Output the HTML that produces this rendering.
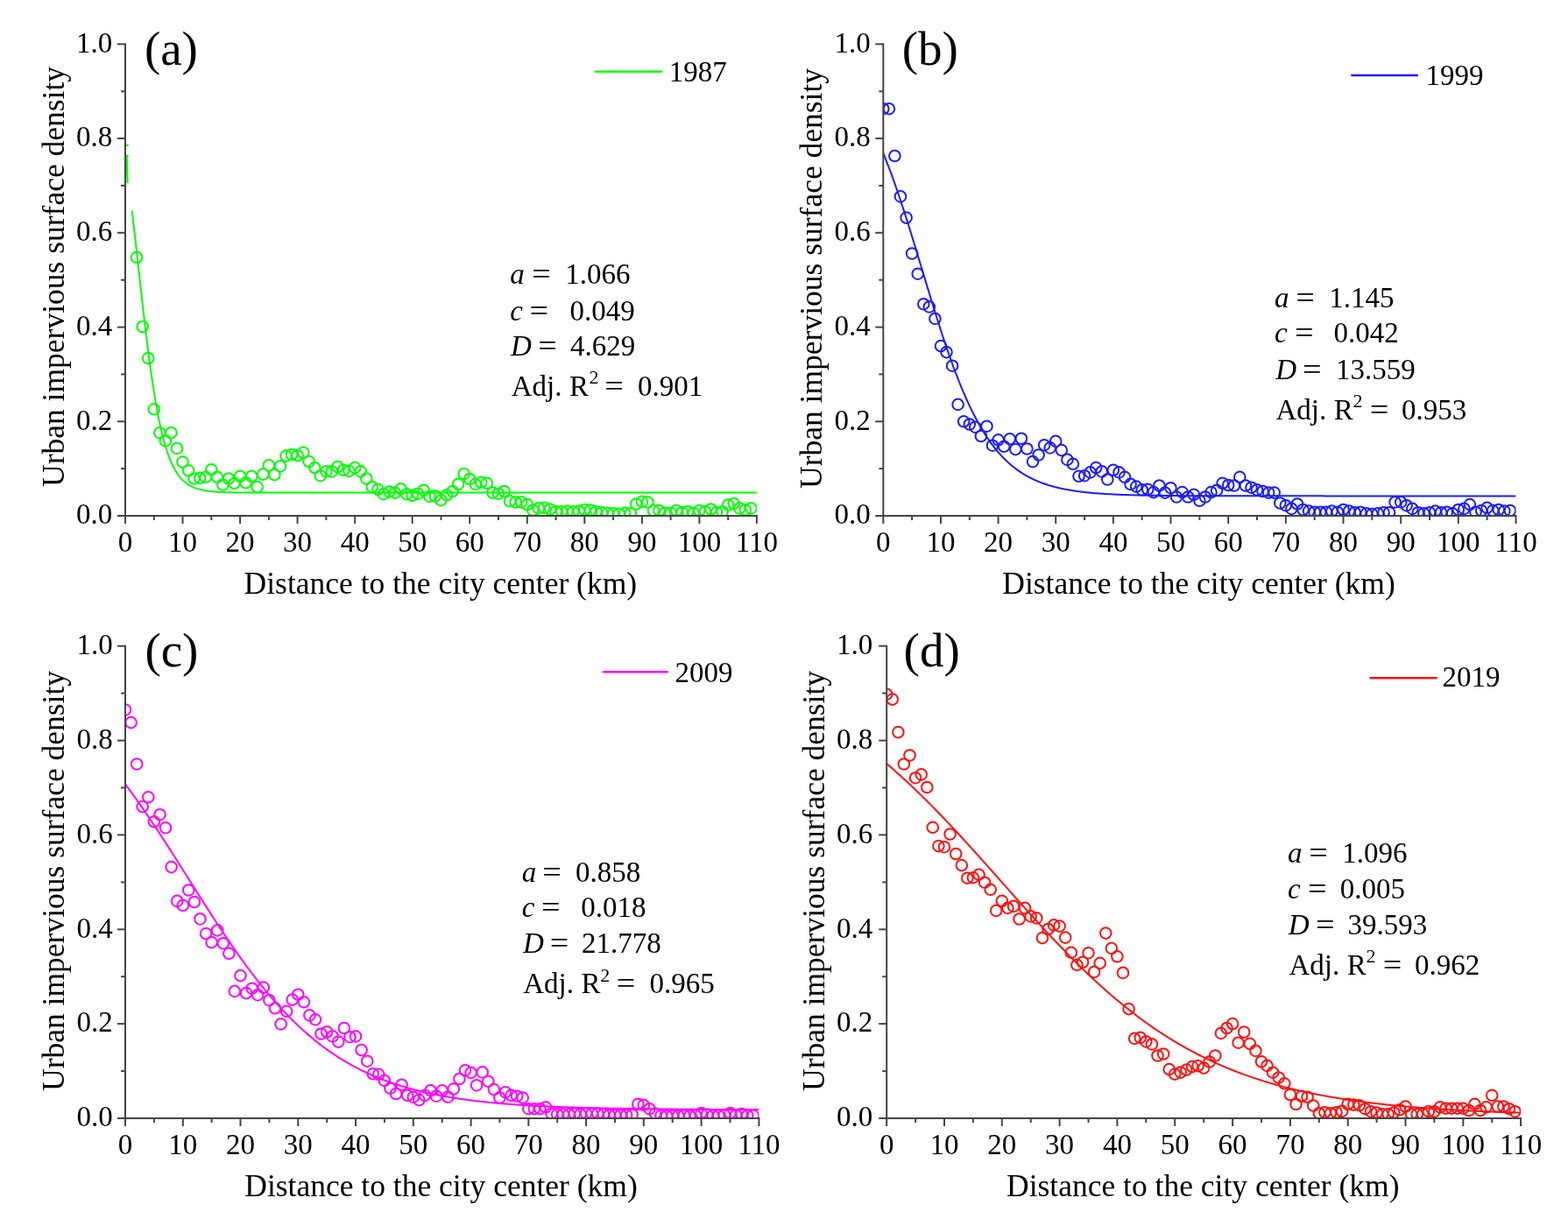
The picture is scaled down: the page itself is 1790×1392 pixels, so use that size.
<!DOCTYPE html>
<html><head><meta charset="utf-8"><title>Urban impervious surface density vs distance to the city center</title>
<style>html,body{margin:0;padding:0;background:#fff;overflow:hidden;}svg{display:block;}</style></head>
<body>
<svg width="1790" height="1392" viewBox="0 0 1790 1392" font-family="'Liberation Serif','Times New Roman',serif">
<rect width="1790" height="1392" fill="#fff"/>
<defs>
<clipPath id="clipa"><rect x="143.0" y="40.4" width="720.9" height="548.6"/></clipPath>
<clipPath id="clipb"><rect x="1008.3" y="40.4" width="722.2" height="548.6"/></clipPath>
<clipPath id="clipc"><rect x="143.0" y="727.7" width="723.4" height="549.3"/></clipPath>
<clipPath id="clipd"><rect x="1012.2" y="727.7" width="723.9" height="549.3"/></clipPath>
</defs>
<g clip-path="url(#clipa)" fill="none" stroke="#00ff00" stroke-width="2.0">
<circle cx="156.1" cy="293.8" r="6.3"/>
<circle cx="162.7" cy="373.0" r="6.3"/>
<circle cx="169.2" cy="409.1" r="6.3"/>
<circle cx="175.8" cy="467.3" r="6.3"/>
<circle cx="182.3" cy="494.2" r="6.3"/>
<circle cx="188.9" cy="503.4" r="6.3"/>
<circle cx="195.4" cy="494.2" r="6.3"/>
<circle cx="202.0" cy="512.0" r="6.3"/>
<circle cx="208.5" cy="527.6" r="6.3"/>
<circle cx="215.1" cy="537.3" r="6.3"/>
<circle cx="221.6" cy="546.5" r="6.3"/>
<circle cx="228.2" cy="545.9" r="6.3"/>
<circle cx="234.8" cy="544.8" r="6.3"/>
<circle cx="241.3" cy="536.2" r="6.3"/>
<circle cx="247.9" cy="544.8" r="6.3"/>
<circle cx="254.4" cy="553.5" r="6.3"/>
<circle cx="261.0" cy="546.5" r="6.3"/>
<circle cx="267.5" cy="551.8" r="6.3"/>
<circle cx="274.1" cy="543.8" r="6.3"/>
<circle cx="280.6" cy="551.3" r="6.3"/>
<circle cx="287.2" cy="543.8" r="6.3"/>
<circle cx="293.7" cy="556.1" r="6.3"/>
<circle cx="300.3" cy="541.6" r="6.3"/>
<circle cx="306.9" cy="531.4" r="6.3"/>
<circle cx="313.4" cy="542.1" r="6.3"/>
<circle cx="320.0" cy="532.4" r="6.3"/>
<circle cx="326.5" cy="520.6" r="6.3"/>
<circle cx="333.1" cy="519.0" r="6.3"/>
<circle cx="339.6" cy="520.1" r="6.3"/>
<circle cx="346.2" cy="516.8" r="6.3"/>
<circle cx="352.7" cy="527.1" r="6.3"/>
<circle cx="359.3" cy="534.1" r="6.3"/>
<circle cx="365.8" cy="543.2" r="6.3"/>
<circle cx="372.4" cy="538.4" r="6.3"/>
<circle cx="378.9" cy="538.4" r="6.3"/>
<circle cx="385.5" cy="533.0" r="6.3"/>
<circle cx="392.1" cy="536.8" r="6.3"/>
<circle cx="398.6" cy="537.8" r="6.3"/>
<circle cx="405.2" cy="534.1" r="6.3"/>
<circle cx="411.7" cy="538.4" r="6.3"/>
<circle cx="418.3" cy="546.5" r="6.3"/>
<circle cx="424.8" cy="556.1" r="6.3"/>
<circle cx="431.4" cy="558.8" r="6.3"/>
<circle cx="437.9" cy="564.2" r="6.3"/>
<circle cx="444.5" cy="561.5" r="6.3"/>
<circle cx="451.0" cy="562.6" r="6.3"/>
<circle cx="457.6" cy="558.3" r="6.3"/>
<circle cx="464.1" cy="564.2" r="6.3"/>
<circle cx="470.7" cy="565.8" r="6.3"/>
<circle cx="477.3" cy="563.7" r="6.3"/>
<circle cx="483.8" cy="559.9" r="6.3"/>
<circle cx="490.4" cy="566.9" r="6.3"/>
<circle cx="496.9" cy="566.4" r="6.3"/>
<circle cx="503.5" cy="571.2" r="6.3"/>
<circle cx="510.0" cy="565.3" r="6.3"/>
<circle cx="516.6" cy="561.0" r="6.3"/>
<circle cx="523.1" cy="552.9" r="6.3"/>
<circle cx="529.7" cy="541.1" r="6.3"/>
<circle cx="536.2" cy="547.0" r="6.3"/>
<circle cx="542.8" cy="552.9" r="6.3"/>
<circle cx="549.3" cy="550.8" r="6.3"/>
<circle cx="555.9" cy="551.8" r="6.3"/>
<circle cx="562.5" cy="562.6" r="6.3"/>
<circle cx="569.0" cy="563.7" r="6.3"/>
<circle cx="575.6" cy="561.0" r="6.3"/>
<circle cx="582.1" cy="572.3" r="6.3"/>
<circle cx="588.7" cy="573.4" r="6.3"/>
<circle cx="595.2" cy="573.4" r="6.3"/>
<circle cx="601.8" cy="576.1" r="6.3"/>
<circle cx="608.3" cy="582.5" r="6.3"/>
<circle cx="614.9" cy="580.4" r="6.3"/>
<circle cx="621.4" cy="579.8" r="6.3"/>
<circle cx="628.0" cy="581.5" r="6.3"/>
<circle cx="634.5" cy="584.2" r="6.3"/>
<circle cx="641.1" cy="584.2" r="6.3"/>
<circle cx="647.7" cy="583.6" r="6.3"/>
<circle cx="654.2" cy="584.2" r="6.3"/>
<circle cx="660.8" cy="583.6" r="6.3"/>
<circle cx="667.3" cy="582.0" r="6.3"/>
<circle cx="673.9" cy="582.5" r="6.3"/>
<circle cx="680.4" cy="584.2" r="6.3"/>
<circle cx="687.0" cy="585.2" r="6.3"/>
<circle cx="693.5" cy="585.8" r="6.3"/>
<circle cx="700.1" cy="586.3" r="6.3"/>
<circle cx="706.6" cy="586.8" r="6.3"/>
<circle cx="713.2" cy="585.8" r="6.3"/>
<circle cx="719.8" cy="586.3" r="6.3"/>
<circle cx="726.3" cy="575.5" r="6.3"/>
<circle cx="732.9" cy="572.8" r="6.3"/>
<circle cx="739.4" cy="573.4" r="6.3"/>
<circle cx="746.0" cy="583.1" r="6.3"/>
<circle cx="752.5" cy="583.1" r="6.3"/>
<circle cx="759.1" cy="585.8" r="6.3"/>
<circle cx="765.6" cy="585.8" r="6.3"/>
<circle cx="772.2" cy="583.1" r="6.3"/>
<circle cx="778.7" cy="585.0" r="6.3"/>
<circle cx="785.3" cy="584.2" r="6.3"/>
<circle cx="791.8" cy="585.8" r="6.3"/>
<circle cx="798.4" cy="583.1" r="6.3"/>
<circle cx="805.0" cy="584.2" r="6.3"/>
<circle cx="811.5" cy="581.5" r="6.3"/>
<circle cx="818.1" cy="585.0" r="6.3"/>
<circle cx="824.6" cy="584.2" r="6.3"/>
<circle cx="831.2" cy="576.6" r="6.3"/>
<circle cx="837.7" cy="575.0" r="6.3"/>
<circle cx="844.3" cy="580.4" r="6.3"/>
<circle cx="850.8" cy="582.3" r="6.3"/>
<circle cx="857.4" cy="580.4" r="6.3"/>
</g>
<polyline points="150.67,240.53 152.09,252.66 153.52,265.05 154.95,277.64 156.37,290.37 157.80,303.19 159.23,316.02 160.65,328.81 162.08,341.48 163.51,353.98 164.93,366.25 166.36,378.24 167.79,389.90 169.21,401.18 170.64,412.05 172.07,422.49 173.49,432.46 174.92,441.95 176.35,450.95 177.77,459.45 179.20,467.46 180.63,474.99 182.05,482.03 183.48,488.61 184.91,494.73 186.33,500.42 187.76,505.69 189.18,510.57 190.61,515.07 192.04,519.22 193.46,523.04 194.89,526.55 196.32,529.77 197.74,532.72 199.17,535.42 200.60,537.89 202.02,540.14 203.45,542.20 204.88,544.08 206.30,545.79 207.73,547.34 209.16,548.76 210.58,550.05 212.01,551.22 213.44,552.28 214.86,553.25 216.29,554.13 217.72,554.93 219.14,555.65 220.57,556.30 222.00,556.90 223.42,557.44 224.85,557.93 226.27,558.37 227.70,558.77 229.13,559.13 230.55,559.46 231.98,559.76 233.41,560.03 234.83,560.28 236.26,560.50 237.69,560.70 239.11,560.88 240.54,561.04 241.97,561.19 243.39,561.33 244.82,561.45 246.25,561.56 247.67,561.66 249.10,561.75 250.53,561.83 251.95,561.91 253.38,561.97 254.81,562.03 256.23,562.09 257.66,562.14 259.09,562.18 260.51,562.22 261.94,562.26 263.37,562.29 264.79,562.32 266.22,562.35 267.64,562.38 269.07,562.40 270.50,562.42 271.92,562.44 273.35,562.45 274.78,562.47 276.20,562.48 277.63,562.49 279.06,562.50 280.48,562.51 281.91,562.52 283.34,562.53 284.76,562.54 286.19,562.55 287.62,562.55 289.04,562.56 290.47,562.56 291.90,562.57 293.32,562.57 294.75,562.57 296.18,562.58 297.60,562.58 299.03,562.58 300.46,562.59 301.88,562.59 303.31,562.59 304.73,562.59 306.16,562.59 307.59,562.59 309.01,562.60 310.44,562.60 311.87,562.60 313.29,562.60 314.72,562.60 316.15,562.60 317.57,562.60 319.00,562.60 320.43,562.60 321.85,562.60 323.28,562.60 324.71,562.60 326.13,562.60 327.56,562.61 328.99,562.61 330.41,562.61 331.84,562.61 333.27,562.61 334.69,562.61 336.12,562.61 337.55,562.61 338.97,562.61 340.40,562.61 341.83,562.61 343.25,562.61 344.68,562.61 346.10,562.61 347.53,562.61 348.96,562.61 350.38,562.61 351.81,562.61 353.24,562.61 354.66,562.61 356.09,562.61 357.52,562.61 358.94,562.61 360.37,562.61 361.80,562.61 363.22,562.61 364.65,562.61 366.08,562.61 367.50,562.61 368.93,562.61 370.36,562.61 371.78,562.61 373.21,562.61 374.64,562.61 376.06,562.61 377.49,562.61 378.92,562.61 380.34,562.61 381.77,562.61 383.19,562.61 384.62,562.61 386.05,562.61 387.47,562.61 388.90,562.61 390.33,562.61 391.75,562.61 393.18,562.61 394.61,562.61 396.03,562.61 397.46,562.61 398.89,562.61 400.31,562.61 401.74,562.61 403.17,562.61 404.59,562.61 406.02,562.61 407.45,562.61 408.87,562.61 410.30,562.61 411.73,562.61 413.15,562.61 414.58,562.61 416.01,562.61 417.43,562.61 418.86,562.61 420.28,562.61 421.71,562.61 423.14,562.61 424.56,562.61 425.99,562.61 427.42,562.61 428.84,562.61 430.27,562.61 431.70,562.61 433.12,562.61 434.55,562.61 435.98,562.61 437.40,562.61 438.83,562.61 440.26,562.61 441.68,562.61 443.11,562.61 444.54,562.61 445.96,562.61 447.39,562.61 448.82,562.61 450.24,562.61 451.67,562.61 453.10,562.61 454.52,562.61 455.95,562.61 457.38,562.61 458.80,562.61 460.23,562.61 461.65,562.61 463.08,562.61 464.51,562.61 465.93,562.61 467.36,562.61 468.79,562.61 470.21,562.61 471.64,562.61 473.07,562.61 474.49,562.61 475.92,562.61 477.35,562.61 478.77,562.61 480.20,562.61 481.63,562.61 483.05,562.61 484.48,562.61 485.91,562.61 487.33,562.61 488.76,562.61 490.19,562.61 491.61,562.61 493.04,562.61 494.47,562.61 495.89,562.61 497.32,562.61 498.74,562.61 500.17,562.61 501.60,562.61 503.02,562.61 504.45,562.61 505.88,562.61 507.30,562.61 508.73,562.61 510.16,562.61 511.58,562.61 513.01,562.61 514.44,562.61 515.86,562.61 517.29,562.61 518.72,562.61 520.14,562.61 521.57,562.61 523.00,562.61 524.42,562.61 525.85,562.61 527.28,562.61 528.70,562.61 530.13,562.61 531.56,562.61 532.98,562.61 534.41,562.61 535.83,562.61 537.26,562.61 538.69,562.61 540.11,562.61 541.54,562.61 542.97,562.61 544.39,562.61 545.82,562.61 547.25,562.61 548.67,562.61 550.10,562.61 551.53,562.61 552.95,562.61 554.38,562.61 555.81,562.61 557.23,562.61 558.66,562.61 560.09,562.61 561.51,562.61 562.94,562.61 564.37,562.61 565.79,562.61 567.22,562.61 568.65,562.61 570.07,562.61 571.50,562.61 572.93,562.61 574.35,562.61 575.78,562.61 577.20,562.61 578.63,562.61 580.06,562.61 581.48,562.61 582.91,562.61 584.34,562.61 585.76,562.61 587.19,562.61 588.62,562.61 590.04,562.61 591.47,562.61 592.90,562.61 594.32,562.61 595.75,562.61 597.18,562.61 598.60,562.61 600.03,562.61 601.46,562.61 602.88,562.61 604.31,562.61 605.74,562.61 607.16,562.61 608.59,562.61 610.02,562.61 611.44,562.61 612.87,562.61 614.29,562.61 615.72,562.61 617.15,562.61 618.57,562.61 620.00,562.61 621.43,562.61 622.85,562.61 624.28,562.61 625.71,562.61 627.13,562.61 628.56,562.61 629.99,562.61 631.41,562.61 632.84,562.61 634.27,562.61 635.69,562.61 637.12,562.61 638.55,562.61 639.97,562.61 641.40,562.61 642.83,562.61 644.25,562.61 645.68,562.61 647.11,562.61 648.53,562.61 649.96,562.61 651.38,562.61 652.81,562.61 654.24,562.61 655.66,562.61 657.09,562.61 658.52,562.61 659.94,562.61 661.37,562.61 662.80,562.61 664.22,562.61 665.65,562.61 667.08,562.61 668.50,562.61 669.93,562.61 671.36,562.61 672.78,562.61 674.21,562.61 675.64,562.61 677.06,562.61 678.49,562.61 679.92,562.61 681.34,562.61 682.77,562.61 684.20,562.61 685.62,562.61 687.05,562.61 688.48,562.61 689.90,562.61 691.33,562.61 692.75,562.61 694.18,562.61 695.61,562.61 697.03,562.61 698.46,562.61 699.89,562.61 701.31,562.61 702.74,562.61 704.17,562.61 705.59,562.61 707.02,562.61 708.45,562.61 709.87,562.61 711.30,562.61 712.73,562.61 714.15,562.61 715.58,562.61 717.01,562.61 718.43,562.61 719.86,562.61 721.29,562.61 722.71,562.61 724.14,562.61 725.57,562.61 726.99,562.61 728.42,562.61 729.84,562.61 731.27,562.61 732.70,562.61 734.12,562.61 735.55,562.61 736.98,562.61 738.40,562.61 739.83,562.61 741.26,562.61 742.68,562.61 744.11,562.61 745.54,562.61 746.96,562.61 748.39,562.61 749.82,562.61 751.24,562.61 752.67,562.61 754.10,562.61 755.52,562.61 756.95,562.61 758.38,562.61 759.80,562.61 761.23,562.61 762.66,562.61 764.08,562.61 765.51,562.61 766.94,562.61 768.36,562.61 769.79,562.61 771.21,562.61 772.64,562.61 774.07,562.61 775.49,562.61 776.92,562.61 778.35,562.61 779.77,562.61 781.20,562.61 782.63,562.61 784.05,562.61 785.48,562.61 786.91,562.61 788.33,562.61 789.76,562.61 791.19,562.61 792.61,562.61 794.04,562.61 795.47,562.61 796.89,562.61 798.32,562.61 799.75,562.61 801.17,562.61 802.60,562.61 804.03,562.61 805.45,562.61 806.88,562.61 808.30,562.61 809.73,562.61 811.16,562.61 812.58,562.61 814.01,562.61 815.44,562.61 816.86,562.61 818.29,562.61 819.72,562.61 821.14,562.61 822.57,562.61 824.00,562.61 825.42,562.61 826.85,562.61 828.28,562.61 829.70,562.61 831.13,562.61 832.56,562.61 833.98,562.61 835.41,562.61 836.84,562.61 838.26,562.61 839.69,562.61 841.12,562.61 842.54,562.61 843.97,562.61 845.39,562.61 846.82,562.61 848.25,562.61 849.67,562.61 851.10,562.61 852.53,562.61 853.95,562.61 855.38,562.61 856.81,562.61 858.23,562.61 859.66,562.61 861.09,562.61 862.51,562.61 863.94,562.61" fill="none" stroke="#00ff00" stroke-width="2.0" stroke-linejoin="round" clip-path="url(#clipa)"/>
<g stroke="#00ff00" stroke-width="2.2" fill="none"><line x1="143.5" y1="165.8" x2="146.6" y2="165.8"/><line x1="143.5" y1="178" x2="146.6" y2="178"/><line x1="144.6" y1="178.5" x2="145.6" y2="209"/></g>
<g stroke="#444" stroke-width="2" fill="none" stroke-linecap="square">
<line x1="143.0" y1="50.4" x2="143.0" y2="589.0"/>
<line x1="143.0" y1="589.0" x2="863.9" y2="589.0"/>
</g><g stroke="#444" stroke-width="2" fill="none">
<line x1="143.0" y1="589.0" x2="143.0" y2="598.0"/>
<line x1="175.8" y1="589.0" x2="175.8" y2="594.0"/>
<line x1="208.5" y1="589.0" x2="208.5" y2="598.0"/>
<line x1="241.3" y1="589.0" x2="241.3" y2="594.0"/>
<line x1="274.1" y1="589.0" x2="274.1" y2="598.0"/>
<line x1="306.9" y1="589.0" x2="306.9" y2="594.0"/>
<line x1="339.6" y1="589.0" x2="339.6" y2="598.0"/>
<line x1="372.4" y1="589.0" x2="372.4" y2="594.0"/>
<line x1="405.2" y1="589.0" x2="405.2" y2="598.0"/>
<line x1="437.9" y1="589.0" x2="437.9" y2="594.0"/>
<line x1="470.7" y1="589.0" x2="470.7" y2="598.0"/>
<line x1="503.5" y1="589.0" x2="503.5" y2="594.0"/>
<line x1="536.2" y1="589.0" x2="536.2" y2="598.0"/>
<line x1="569.0" y1="589.0" x2="569.0" y2="594.0"/>
<line x1="601.8" y1="589.0" x2="601.8" y2="598.0"/>
<line x1="634.5" y1="589.0" x2="634.5" y2="594.0"/>
<line x1="667.3" y1="589.0" x2="667.3" y2="598.0"/>
<line x1="700.1" y1="589.0" x2="700.1" y2="594.0"/>
<line x1="732.9" y1="589.0" x2="732.9" y2="598.0"/>
<line x1="765.6" y1="589.0" x2="765.6" y2="594.0"/>
<line x1="798.4" y1="589.0" x2="798.4" y2="598.0"/>
<line x1="831.2" y1="589.0" x2="831.2" y2="594.0"/>
<line x1="863.9" y1="589.0" x2="863.9" y2="598.0"/>
<line x1="134.0" y1="589.0" x2="143.0" y2="589.0"/>
<line x1="138.0" y1="535.1" x2="143.0" y2="535.1"/>
<line x1="134.0" y1="481.3" x2="143.0" y2="481.3"/>
<line x1="138.0" y1="427.4" x2="143.0" y2="427.4"/>
<line x1="134.0" y1="373.6" x2="143.0" y2="373.6"/>
<line x1="138.0" y1="319.7" x2="143.0" y2="319.7"/>
<line x1="134.0" y1="265.8" x2="143.0" y2="265.8"/>
<line x1="138.0" y1="212.0" x2="143.0" y2="212.0"/>
<line x1="134.0" y1="158.1" x2="143.0" y2="158.1"/>
<line x1="138.0" y1="104.3" x2="143.0" y2="104.3"/>
<line x1="134.0" y1="50.4" x2="143.0" y2="50.4"/>
</g>
<g font-size="33" fill="#000">
<text x="143.0" y="629.9" text-anchor="middle">0</text>
<text x="208.5" y="629.9" text-anchor="middle">10</text>
<text x="274.1" y="629.9" text-anchor="middle">20</text>
<text x="339.6" y="629.9" text-anchor="middle">30</text>
<text x="405.2" y="629.9" text-anchor="middle">40</text>
<text x="470.7" y="629.9" text-anchor="middle">50</text>
<text x="536.2" y="629.9" text-anchor="middle">60</text>
<text x="601.8" y="629.9" text-anchor="middle">70</text>
<text x="667.3" y="629.9" text-anchor="middle">80</text>
<text x="732.9" y="629.9" text-anchor="middle">90</text>
<text x="798.4" y="629.9" text-anchor="middle">100</text>
<text x="863.9" y="629.9" text-anchor="middle">110</text>
<text x="128.2" y="598.3" text-anchor="end">0.0</text>
<text x="128.2" y="490.6" text-anchor="end">0.2</text>
<text x="128.2" y="382.9" text-anchor="end">0.4</text>
<text x="128.2" y="275.1" text-anchor="end">0.6</text>
<text x="128.2" y="167.4" text-anchor="end">0.8</text>
<text x="128.2" y="59.7" text-anchor="end">1.0</text>
</g>
<text x="164.9" y="74.1" font-size="55">(a)</text>
<line x1="679.0" y1="81.8" x2="756.1" y2="81.8" stroke="#00ff00" stroke-width="2.4"/>
<text x="763.7" y="93.3" font-size="33">1987</text>
<text x="278.6" y="678.3" font-size="35.5">Distance to the city center (km)</text>
<text transform="translate(72.7,556.0) rotate(-90)" x="0" y="0" font-size="35.5">Urban impervious surface density</text>
<g font-size="33.0">
<text x="582.3" y="323.7" font-style="italic">a</text>
<text transform="translate(607.2,323.7) scale(1.16,1)">=</text>
<text x="645.2" y="323.7">1.066</text>
<text x="582.3" y="365.6" font-style="italic">c</text>
<text transform="translate(604.4,365.6) scale(1.16,1)">=</text>
<text x="650.4" y="365.6">0.049</text>
<text x="582.9" y="406.1" font-style="italic">D</text>
<text transform="translate(614.2,406.1) scale(1.16,1)">=</text>
<text x="651.0" y="406.1">4.629</text>
<text x="583.7" y="452.2">Adj.</text>
<text x="650.0" y="452.2">R</text>
<text x="672.5" y="438.4" font-size="22">2</text>
<text transform="translate(690.3,452.2) scale(1.16,1)">=</text>
<text x="727.9" y="452.2">0.901</text>
</g>
<g clip-path="url(#clipb)" fill="none" stroke="#1c1cff" stroke-width="2.0">
<circle cx="1008.3" cy="124.2" r="6.3"/>
<circle cx="1014.9" cy="124.2" r="6.3"/>
<circle cx="1021.4" cy="178.0" r="6.3"/>
<circle cx="1028.0" cy="224.4" r="6.3"/>
<circle cx="1034.6" cy="248.6" r="6.3"/>
<circle cx="1041.1" cy="289.5" r="6.3"/>
<circle cx="1047.7" cy="312.7" r="6.3"/>
<circle cx="1054.3" cy="347.2" r="6.3"/>
<circle cx="1060.8" cy="350.4" r="6.3"/>
<circle cx="1067.4" cy="363.9" r="6.3"/>
<circle cx="1074.0" cy="395.1" r="6.3"/>
<circle cx="1080.5" cy="402.1" r="6.3"/>
<circle cx="1087.1" cy="417.7" r="6.3"/>
<circle cx="1093.6" cy="461.9" r="6.3"/>
<circle cx="1100.2" cy="481.3" r="6.3"/>
<circle cx="1106.8" cy="484.5" r="6.3"/>
<circle cx="1113.3" cy="487.7" r="6.3"/>
<circle cx="1119.9" cy="498.0" r="6.3"/>
<circle cx="1126.5" cy="486.7" r="6.3"/>
<circle cx="1133.0" cy="508.7" r="6.3"/>
<circle cx="1139.6" cy="502.3" r="6.3"/>
<circle cx="1146.2" cy="509.8" r="6.3"/>
<circle cx="1152.7" cy="501.2" r="6.3"/>
<circle cx="1159.3" cy="513.1" r="6.3"/>
<circle cx="1165.9" cy="500.7" r="6.3"/>
<circle cx="1172.4" cy="512.5" r="6.3"/>
<circle cx="1179.0" cy="527.1" r="6.3"/>
<circle cx="1185.6" cy="519.5" r="6.3"/>
<circle cx="1192.1" cy="508.2" r="6.3"/>
<circle cx="1198.7" cy="511.4" r="6.3"/>
<circle cx="1205.2" cy="503.9" r="6.3"/>
<circle cx="1211.8" cy="514.1" r="6.3"/>
<circle cx="1218.4" cy="524.9" r="6.3"/>
<circle cx="1224.9" cy="529.8" r="6.3"/>
<circle cx="1231.5" cy="543.8" r="6.3"/>
<circle cx="1238.1" cy="543.2" r="6.3"/>
<circle cx="1244.6" cy="539.4" r="6.3"/>
<circle cx="1251.2" cy="534.1" r="6.3"/>
<circle cx="1257.8" cy="538.4" r="6.3"/>
<circle cx="1264.3" cy="547.5" r="6.3"/>
<circle cx="1270.9" cy="536.8" r="6.3"/>
<circle cx="1277.5" cy="539.4" r="6.3"/>
<circle cx="1284.0" cy="544.8" r="6.3"/>
<circle cx="1290.6" cy="552.9" r="6.3"/>
<circle cx="1297.2" cy="555.6" r="6.3"/>
<circle cx="1303.7" cy="559.4" r="6.3"/>
<circle cx="1310.3" cy="558.8" r="6.3"/>
<circle cx="1316.9" cy="562.1" r="6.3"/>
<circle cx="1323.4" cy="554.5" r="6.3"/>
<circle cx="1330.0" cy="562.6" r="6.3"/>
<circle cx="1336.5" cy="557.2" r="6.3"/>
<circle cx="1343.1" cy="567.5" r="6.3"/>
<circle cx="1349.7" cy="562.1" r="6.3"/>
<circle cx="1356.2" cy="567.5" r="6.3"/>
<circle cx="1362.8" cy="564.8" r="6.3"/>
<circle cx="1369.4" cy="571.8" r="6.3"/>
<circle cx="1375.9" cy="567.5" r="6.3"/>
<circle cx="1382.5" cy="562.1" r="6.3"/>
<circle cx="1389.1" cy="559.9" r="6.3"/>
<circle cx="1395.6" cy="551.8" r="6.3"/>
<circle cx="1402.2" cy="554.0" r="6.3"/>
<circle cx="1408.8" cy="554.5" r="6.3"/>
<circle cx="1415.3" cy="544.8" r="6.3"/>
<circle cx="1421.9" cy="554.5" r="6.3"/>
<circle cx="1428.5" cy="556.7" r="6.3"/>
<circle cx="1435.0" cy="559.4" r="6.3"/>
<circle cx="1441.6" cy="561.0" r="6.3"/>
<circle cx="1448.2" cy="562.6" r="6.3"/>
<circle cx="1454.7" cy="562.6" r="6.3"/>
<circle cx="1461.3" cy="574.5" r="6.3"/>
<circle cx="1467.8" cy="577.2" r="6.3"/>
<circle cx="1474.4" cy="580.9" r="6.3"/>
<circle cx="1481.0" cy="575.5" r="6.3"/>
<circle cx="1487.5" cy="582.0" r="6.3"/>
<circle cx="1494.1" cy="583.6" r="6.3"/>
<circle cx="1500.7" cy="584.7" r="6.3"/>
<circle cx="1507.2" cy="584.7" r="6.3"/>
<circle cx="1513.8" cy="584.7" r="6.3"/>
<circle cx="1520.4" cy="583.6" r="6.3"/>
<circle cx="1526.9" cy="584.7" r="6.3"/>
<circle cx="1533.5" cy="582.0" r="6.3"/>
<circle cx="1540.1" cy="583.6" r="6.3"/>
<circle cx="1546.6" cy="585.2" r="6.3"/>
<circle cx="1553.2" cy="584.7" r="6.3"/>
<circle cx="1559.8" cy="586.3" r="6.3"/>
<circle cx="1566.3" cy="587.1" r="6.3"/>
<circle cx="1572.9" cy="586.3" r="6.3"/>
<circle cx="1579.5" cy="585.2" r="6.3"/>
<circle cx="1586.0" cy="585.2" r="6.3"/>
<circle cx="1592.6" cy="573.4" r="6.3"/>
<circle cx="1599.2" cy="573.4" r="6.3"/>
<circle cx="1605.7" cy="577.2" r="6.3"/>
<circle cx="1612.3" cy="580.9" r="6.3"/>
<circle cx="1618.8" cy="585.2" r="6.3"/>
<circle cx="1625.4" cy="586.3" r="6.3"/>
<circle cx="1632.0" cy="585.2" r="6.3"/>
<circle cx="1638.5" cy="583.6" r="6.3"/>
<circle cx="1645.1" cy="585.2" r="6.3"/>
<circle cx="1651.7" cy="584.7" r="6.3"/>
<circle cx="1658.2" cy="586.3" r="6.3"/>
<circle cx="1664.8" cy="582.0" r="6.3"/>
<circle cx="1671.4" cy="580.9" r="6.3"/>
<circle cx="1677.9" cy="576.1" r="6.3"/>
<circle cx="1684.5" cy="584.7" r="6.3"/>
<circle cx="1691.1" cy="583.1" r="6.3"/>
<circle cx="1697.6" cy="579.8" r="6.3"/>
<circle cx="1704.2" cy="583.1" r="6.3"/>
<circle cx="1710.8" cy="582.0" r="6.3"/>
<circle cx="1717.3" cy="583.6" r="6.3"/>
<circle cx="1723.9" cy="583.1" r="6.3"/>
</g>
<polyline points="1008.30,174.96 1009.74,178.50 1011.19,182.12 1012.63,185.79 1014.08,189.54 1015.52,193.34 1016.97,197.22 1018.41,201.15 1019.85,205.14 1021.30,209.20 1022.74,213.31 1024.19,217.48 1025.63,221.71 1027.08,225.99 1028.52,230.32 1029.96,234.69 1031.41,239.12 1032.85,243.59 1034.30,248.10 1035.74,252.65 1037.19,257.24 1038.63,261.86 1040.07,266.51 1041.52,271.19 1042.96,275.89 1044.41,280.62 1045.85,285.37 1047.30,290.13 1048.74,294.91 1050.18,299.69 1051.63,304.48 1053.07,309.27 1054.52,314.06 1055.96,318.85 1057.41,323.63 1058.85,328.40 1060.29,333.16 1061.74,337.90 1063.18,342.62 1064.63,347.32 1066.07,351.99 1067.52,356.63 1068.96,361.24 1070.40,365.81 1071.85,370.35 1073.29,374.84 1074.74,379.30 1076.18,383.70 1077.63,388.06 1079.07,392.37 1080.51,396.63 1081.96,400.84 1083.40,404.99 1084.85,409.08 1086.29,413.11 1087.74,417.09 1089.18,421.00 1090.63,424.84 1092.07,428.63 1093.51,432.35 1094.96,436.00 1096.40,439.59 1097.85,443.11 1099.29,446.56 1100.74,449.94 1102.18,453.26 1103.62,456.51 1105.07,459.69 1106.51,462.80 1107.96,465.84 1109.40,468.81 1110.85,471.72 1112.29,474.56 1113.73,477.33 1115.18,480.03 1116.62,482.67 1118.07,485.24 1119.51,487.75 1120.96,490.20 1122.40,492.58 1123.84,494.90 1125.29,497.15 1126.73,499.35 1128.18,501.49 1129.62,503.57 1131.07,505.59 1132.51,507.55 1133.95,509.46 1135.40,511.32 1136.84,513.12 1138.29,514.87 1139.73,516.56 1141.18,518.21 1142.62,519.81 1144.06,521.36 1145.51,522.86 1146.95,524.32 1148.40,525.73 1149.84,527.10 1151.29,528.43 1152.73,529.72 1154.17,530.96 1155.62,532.17 1157.06,533.34 1158.51,534.47 1159.95,535.56 1161.40,536.62 1162.84,537.65 1164.28,538.64 1165.73,539.60 1167.17,540.52 1168.62,541.42 1170.06,542.29 1171.51,543.13 1172.95,543.94 1174.39,544.72 1175.84,545.48 1177.28,546.21 1178.73,546.92 1180.17,547.61 1181.62,548.27 1183.06,548.90 1184.50,549.52 1185.95,550.12 1187.39,550.69 1188.84,551.25 1190.28,551.78 1191.73,552.30 1193.17,552.80 1194.61,553.28 1196.06,553.75 1197.50,554.20 1198.95,554.63 1200.39,555.05 1201.84,555.46 1203.28,555.85 1204.72,556.22 1206.17,556.59 1207.61,556.94 1209.06,557.28 1210.50,557.60 1211.95,557.92 1213.39,558.22 1214.83,558.51 1216.28,558.80 1217.72,559.07 1219.17,559.33 1220.61,559.59 1222.06,559.83 1223.50,560.07 1224.94,560.29 1226.39,560.51 1227.83,560.73 1229.28,560.93 1230.72,561.13 1232.17,561.32 1233.61,561.50 1235.06,561.67 1236.50,561.84 1237.94,562.01 1239.39,562.17 1240.83,562.32 1242.28,562.47 1243.72,562.61 1245.17,562.74 1246.61,562.88 1248.05,563.00 1249.50,563.13 1250.94,563.24 1252.39,563.36 1253.83,563.47 1255.28,563.57 1256.72,563.67 1258.16,563.77 1259.61,563.87 1261.05,563.96 1262.50,564.05 1263.94,564.13 1265.39,564.21 1266.83,564.29 1268.27,564.37 1269.72,564.44 1271.16,564.51 1272.61,564.58 1274.05,564.64 1275.50,564.71 1276.94,564.77 1278.38,564.83 1279.83,564.88 1281.27,564.94 1282.72,564.99 1284.16,565.04 1285.61,565.09 1287.05,565.14 1288.49,565.18 1289.94,565.22 1291.38,565.27 1292.83,565.31 1294.27,565.35 1295.72,565.38 1297.16,565.42 1298.60,565.45 1300.05,565.49 1301.49,565.52 1302.94,565.55 1304.38,565.58 1305.83,565.61 1307.27,565.64 1308.71,565.67 1310.16,565.69 1311.60,565.72 1313.05,565.74 1314.49,565.76 1315.94,565.79 1317.38,565.81 1318.82,565.83 1320.27,565.85 1321.71,565.87 1323.16,565.89 1324.60,565.91 1326.05,565.92 1327.49,565.94 1328.93,565.95 1330.38,565.97 1331.82,565.99 1333.27,566.00 1334.71,566.01 1336.16,566.03 1337.60,566.04 1339.04,566.05 1340.49,566.06 1341.93,566.08 1343.38,566.09 1344.82,566.10 1346.27,566.11 1347.71,566.12 1349.15,566.13 1350.60,566.14 1352.04,566.14 1353.49,566.15 1354.93,566.16 1356.38,566.17 1357.82,566.18 1359.26,566.18 1360.71,566.19 1362.15,566.20 1363.60,566.20 1365.04,566.21 1366.49,566.22 1367.93,566.22 1369.38,566.23 1370.82,566.23 1372.26,566.24 1373.71,566.24 1375.15,566.25 1376.60,566.25 1378.04,566.26 1379.49,566.26 1380.93,566.27 1382.37,566.27 1383.82,566.28 1385.26,566.28 1386.71,566.28 1388.15,566.29 1389.60,566.29 1391.04,566.29 1392.48,566.30 1393.93,566.30 1395.37,566.30 1396.82,566.30 1398.26,566.31 1399.71,566.31 1401.15,566.31 1402.59,566.32 1404.04,566.32 1405.48,566.32 1406.93,566.32 1408.37,566.32 1409.82,566.33 1411.26,566.33 1412.70,566.33 1414.15,566.33 1415.59,566.33 1417.04,566.33 1418.48,566.34 1419.93,566.34 1421.37,566.34 1422.81,566.34 1424.26,566.34 1425.70,566.34 1427.15,566.34 1428.59,566.35 1430.04,566.35 1431.48,566.35 1432.92,566.35 1434.37,566.35 1435.81,566.35 1437.26,566.35 1438.70,566.35 1440.15,566.35 1441.59,566.36 1443.03,566.36 1444.48,566.36 1445.92,566.36 1447.37,566.36 1448.81,566.36 1450.26,566.36 1451.70,566.36 1453.14,566.36 1454.59,566.36 1456.03,566.36 1457.48,566.36 1458.92,566.36 1460.37,566.36 1461.81,566.36 1463.25,566.37 1464.70,566.37 1466.14,566.37 1467.59,566.37 1469.03,566.37 1470.48,566.37 1471.92,566.37 1473.36,566.37 1474.81,566.37 1476.25,566.37 1477.70,566.37 1479.14,566.37 1480.59,566.37 1482.03,566.37 1483.47,566.37 1484.92,566.37 1486.36,566.37 1487.81,566.37 1489.25,566.37 1490.70,566.37 1492.14,566.37 1493.58,566.37 1495.03,566.37 1496.47,566.37 1497.92,566.37 1499.36,566.37 1500.81,566.37 1502.25,566.37 1503.69,566.37 1505.14,566.37 1506.58,566.37 1508.03,566.37 1509.47,566.37 1510.92,566.37 1512.36,566.38 1513.81,566.38 1515.25,566.38 1516.69,566.38 1518.14,566.38 1519.58,566.38 1521.03,566.38 1522.47,566.38 1523.92,566.38 1525.36,566.38 1526.80,566.38 1528.25,566.38 1529.69,566.38 1531.14,566.38 1532.58,566.38 1534.03,566.38 1535.47,566.38 1536.91,566.38 1538.36,566.38 1539.80,566.38 1541.25,566.38 1542.69,566.38 1544.14,566.38 1545.58,566.38 1547.02,566.38 1548.47,566.38 1549.91,566.38 1551.36,566.38 1552.80,566.38 1554.25,566.38 1555.69,566.38 1557.13,566.38 1558.58,566.38 1560.02,566.38 1561.47,566.38 1562.91,566.38 1564.36,566.38 1565.80,566.38 1567.24,566.38 1568.69,566.38 1570.13,566.38 1571.58,566.38 1573.02,566.38 1574.47,566.38 1575.91,566.38 1577.35,566.38 1578.80,566.38 1580.24,566.38 1581.69,566.38 1583.13,566.38 1584.58,566.38 1586.02,566.38 1587.46,566.38 1588.91,566.38 1590.35,566.38 1591.80,566.38 1593.24,566.38 1594.69,566.38 1596.13,566.38 1597.57,566.38 1599.02,566.38 1600.46,566.38 1601.91,566.38 1603.35,566.38 1604.80,566.38 1606.24,566.38 1607.68,566.38 1609.13,566.38 1610.57,566.38 1612.02,566.38 1613.46,566.38 1614.91,566.38 1616.35,566.38 1617.79,566.38 1619.24,566.38 1620.68,566.38 1622.13,566.38 1623.57,566.38 1625.02,566.38 1626.46,566.38 1627.90,566.38 1629.35,566.38 1630.79,566.38 1632.24,566.38 1633.68,566.38 1635.13,566.38 1636.57,566.38 1638.01,566.38 1639.46,566.38 1640.90,566.38 1642.35,566.38 1643.79,566.38 1645.24,566.38 1646.68,566.38 1648.12,566.38 1649.57,566.38 1651.01,566.38 1652.46,566.38 1653.90,566.38 1655.35,566.38 1656.79,566.38 1658.24,566.38 1659.68,566.38 1661.12,566.38 1662.57,566.38 1664.01,566.38 1665.46,566.38 1666.90,566.38 1668.35,566.38 1669.79,566.38 1671.23,566.38 1672.68,566.38 1674.12,566.38 1675.57,566.38 1677.01,566.38 1678.46,566.38 1679.90,566.38 1681.34,566.38 1682.79,566.38 1684.23,566.38 1685.68,566.38 1687.12,566.38 1688.57,566.38 1690.01,566.38 1691.45,566.38 1692.90,566.38 1694.34,566.38 1695.79,566.38 1697.23,566.38 1698.68,566.38 1700.12,566.38 1701.56,566.38 1703.01,566.38 1704.45,566.38 1705.90,566.38 1707.34,566.38 1708.79,566.38 1710.23,566.38 1711.67,566.38 1713.12,566.38 1714.56,566.38 1716.01,566.38 1717.45,566.38 1718.90,566.38 1720.34,566.38 1721.78,566.38 1723.23,566.38 1724.67,566.38 1726.12,566.38 1727.56,566.38 1729.01,566.38 1730.45,566.38" fill="none" stroke="#1c1cff" stroke-width="2.0" stroke-linejoin="round" clip-path="url(#clipb)"/>
<g stroke="#444" stroke-width="2" fill="none" stroke-linecap="square">
<line x1="1008.3" y1="50.4" x2="1008.3" y2="589.0"/>
<line x1="1008.3" y1="589.0" x2="1730.5" y2="589.0"/>
</g><g stroke="#444" stroke-width="2" fill="none">
<line x1="1008.3" y1="589.0" x2="1008.3" y2="598.0"/>
<line x1="1041.1" y1="589.0" x2="1041.1" y2="594.0"/>
<line x1="1074.0" y1="589.0" x2="1074.0" y2="598.0"/>
<line x1="1106.8" y1="589.0" x2="1106.8" y2="594.0"/>
<line x1="1139.6" y1="589.0" x2="1139.6" y2="598.0"/>
<line x1="1172.4" y1="589.0" x2="1172.4" y2="594.0"/>
<line x1="1205.2" y1="589.0" x2="1205.2" y2="598.0"/>
<line x1="1238.1" y1="589.0" x2="1238.1" y2="594.0"/>
<line x1="1270.9" y1="589.0" x2="1270.9" y2="598.0"/>
<line x1="1303.7" y1="589.0" x2="1303.7" y2="594.0"/>
<line x1="1336.5" y1="589.0" x2="1336.5" y2="598.0"/>
<line x1="1369.4" y1="589.0" x2="1369.4" y2="594.0"/>
<line x1="1402.2" y1="589.0" x2="1402.2" y2="598.0"/>
<line x1="1435.0" y1="589.0" x2="1435.0" y2="594.0"/>
<line x1="1467.8" y1="589.0" x2="1467.8" y2="598.0"/>
<line x1="1500.7" y1="589.0" x2="1500.7" y2="594.0"/>
<line x1="1533.5" y1="589.0" x2="1533.5" y2="598.0"/>
<line x1="1566.3" y1="589.0" x2="1566.3" y2="594.0"/>
<line x1="1599.2" y1="589.0" x2="1599.2" y2="598.0"/>
<line x1="1632.0" y1="589.0" x2="1632.0" y2="594.0"/>
<line x1="1664.8" y1="589.0" x2="1664.8" y2="598.0"/>
<line x1="1697.6" y1="589.0" x2="1697.6" y2="594.0"/>
<line x1="1730.5" y1="589.0" x2="1730.5" y2="598.0"/>
<line x1="999.3" y1="589.0" x2="1008.3" y2="589.0"/>
<line x1="1003.3" y1="535.1" x2="1008.3" y2="535.1"/>
<line x1="999.3" y1="481.3" x2="1008.3" y2="481.3"/>
<line x1="1003.3" y1="427.4" x2="1008.3" y2="427.4"/>
<line x1="999.3" y1="373.6" x2="1008.3" y2="373.6"/>
<line x1="1003.3" y1="319.7" x2="1008.3" y2="319.7"/>
<line x1="999.3" y1="265.8" x2="1008.3" y2="265.8"/>
<line x1="1003.3" y1="212.0" x2="1008.3" y2="212.0"/>
<line x1="999.3" y1="158.1" x2="1008.3" y2="158.1"/>
<line x1="1003.3" y1="104.3" x2="1008.3" y2="104.3"/>
<line x1="999.3" y1="50.4" x2="1008.3" y2="50.4"/>
</g>
<g font-size="33" fill="#000">
<text x="1008.3" y="629.9" text-anchor="middle">0</text>
<text x="1074.0" y="629.9" text-anchor="middle">10</text>
<text x="1139.6" y="629.9" text-anchor="middle">20</text>
<text x="1205.2" y="629.9" text-anchor="middle">30</text>
<text x="1270.9" y="629.9" text-anchor="middle">40</text>
<text x="1336.5" y="629.9" text-anchor="middle">50</text>
<text x="1402.2" y="629.9" text-anchor="middle">60</text>
<text x="1467.8" y="629.9" text-anchor="middle">70</text>
<text x="1533.5" y="629.9" text-anchor="middle">80</text>
<text x="1599.2" y="629.9" text-anchor="middle">90</text>
<text x="1664.8" y="629.9" text-anchor="middle">100</text>
<text x="1730.5" y="629.9" text-anchor="middle">110</text>
<text x="993.8" y="598.3" text-anchor="end">0.0</text>
<text x="993.8" y="490.6" text-anchor="end">0.2</text>
<text x="993.8" y="382.9" text-anchor="end">0.4</text>
<text x="993.8" y="275.1" text-anchor="end">0.6</text>
<text x="993.8" y="167.4" text-anchor="end">0.8</text>
<text x="993.8" y="59.7" text-anchor="end">1.0</text>
</g>
<text x="1029.8" y="74.1" font-size="55">(b)</text>
<line x1="1542.3" y1="86.0" x2="1618.9" y2="86.0" stroke="#1c1cff" stroke-width="2.4"/>
<text x="1627.6" y="97.2" font-size="33">1999</text>
<text x="1144.3" y="678.3" font-size="35.5">Distance to the city center (km)</text>
<text transform="translate(938.2,558.0) rotate(-90)" x="0" y="0" font-size="35.5">Urban impervious surface density</text>
<g font-size="33.0">
<text x="1455.1" y="350.9" font-style="italic">a</text>
<text transform="translate(1479.3,350.9) scale(1.16,1)">=</text>
<text x="1517.3" y="350.9">1.145</text>
<text x="1455.1" y="391.4" font-style="italic">c</text>
<text transform="translate(1477.9,391.4) scale(1.16,1)">=</text>
<text x="1522.5" y="391.4">0.042</text>
<text x="1456.3" y="432.6" font-style="italic">D</text>
<text transform="translate(1487.0,432.6) scale(1.16,1)">=</text>
<text x="1525.0" y="432.6">13.559</text>
<text x="1456.5" y="478.7">Adj.</text>
<text x="1522.8" y="478.7">R</text>
<text x="1544.5" y="465.0" font-size="22">2</text>
<text transform="translate(1563.8,478.7) scale(1.16,1)">=</text>
<text x="1600.0" y="478.7">0.953</text>
</g>
<g clip-path="url(#clipc)" fill="none" stroke="#ff00ff" stroke-width="2.0">
<circle cx="143.0" cy="810.5" r="6.3"/>
<circle cx="149.6" cy="825.1" r="6.3"/>
<circle cx="156.2" cy="872.5" r="6.3"/>
<circle cx="162.7" cy="921.1" r="6.3"/>
<circle cx="169.3" cy="910.3" r="6.3"/>
<circle cx="175.9" cy="938.3" r="6.3"/>
<circle cx="182.5" cy="930.2" r="6.3"/>
<circle cx="189.0" cy="945.3" r="6.3"/>
<circle cx="195.6" cy="990.1" r="6.3"/>
<circle cx="202.2" cy="1028.9" r="6.3"/>
<circle cx="208.8" cy="1033.8" r="6.3"/>
<circle cx="215.3" cy="1016.5" r="6.3"/>
<circle cx="221.9" cy="1030.0" r="6.3"/>
<circle cx="228.5" cy="1049.4" r="6.3"/>
<circle cx="235.1" cy="1066.1" r="6.3"/>
<circle cx="241.6" cy="1076.1" r="6.3"/>
<circle cx="248.2" cy="1062.4" r="6.3"/>
<circle cx="254.8" cy="1077.2" r="6.3"/>
<circle cx="261.4" cy="1088.8" r="6.3"/>
<circle cx="267.9" cy="1131.9" r="6.3"/>
<circle cx="274.5" cy="1114.1" r="6.3"/>
<circle cx="281.1" cy="1134.1" r="6.3"/>
<circle cx="287.7" cy="1128.7" r="6.3"/>
<circle cx="294.2" cy="1136.2" r="6.3"/>
<circle cx="300.8" cy="1127.6" r="6.3"/>
<circle cx="307.4" cy="1142.2" r="6.3"/>
<circle cx="314.0" cy="1151.3" r="6.3"/>
<circle cx="320.6" cy="1169.4" r="6.3"/>
<circle cx="327.1" cy="1154.8" r="6.3"/>
<circle cx="333.7" cy="1141.6" r="6.3"/>
<circle cx="340.3" cy="1135.7" r="6.3"/>
<circle cx="346.9" cy="1144.3" r="6.3"/>
<circle cx="353.4" cy="1159.4" r="6.3"/>
<circle cx="360.0" cy="1164.3" r="6.3"/>
<circle cx="366.6" cy="1180.5" r="6.3"/>
<circle cx="373.2" cy="1178.3" r="6.3"/>
<circle cx="379.7" cy="1183.4" r="6.3"/>
<circle cx="386.3" cy="1189.6" r="6.3"/>
<circle cx="392.9" cy="1174.0" r="6.3"/>
<circle cx="399.5" cy="1184.2" r="6.3"/>
<circle cx="406.0" cy="1183.4" r="6.3"/>
<circle cx="412.6" cy="1199.0" r="6.3"/>
<circle cx="419.2" cy="1211.7" r="6.3"/>
<circle cx="425.8" cy="1226.3" r="6.3"/>
<circle cx="432.3" cy="1226.8" r="6.3"/>
<circle cx="438.9" cy="1233.9" r="6.3"/>
<circle cx="445.5" cy="1242.7" r="6.3"/>
<circle cx="452.1" cy="1249.0" r="6.3"/>
<circle cx="458.6" cy="1238.7" r="6.3"/>
<circle cx="465.2" cy="1250.8" r="6.3"/>
<circle cx="471.8" cy="1252.7" r="6.3"/>
<circle cx="478.4" cy="1256.1" r="6.3"/>
<circle cx="485.0" cy="1250.8" r="6.3"/>
<circle cx="491.5" cy="1245.4" r="6.3"/>
<circle cx="498.1" cy="1251.7" r="6.3"/>
<circle cx="504.7" cy="1245.4" r="6.3"/>
<circle cx="511.3" cy="1252.7" r="6.3"/>
<circle cx="517.8" cy="1243.6" r="6.3"/>
<circle cx="524.4" cy="1232.0" r="6.3"/>
<circle cx="531.0" cy="1222.2" r="6.3"/>
<circle cx="537.6" cy="1224.9" r="6.3"/>
<circle cx="544.1" cy="1239.2" r="6.3"/>
<circle cx="550.7" cy="1224.4" r="6.3"/>
<circle cx="557.3" cy="1234.7" r="6.3"/>
<circle cx="563.9" cy="1244.1" r="6.3"/>
<circle cx="570.4" cy="1253.5" r="6.3"/>
<circle cx="577.0" cy="1247.2" r="6.3"/>
<circle cx="583.6" cy="1250.8" r="6.3"/>
<circle cx="590.2" cy="1251.7" r="6.3"/>
<circle cx="596.7" cy="1253.6" r="6.3"/>
<circle cx="603.3" cy="1266.2" r="6.3"/>
<circle cx="609.9" cy="1266.2" r="6.3"/>
<circle cx="616.5" cy="1266.2" r="6.3"/>
<circle cx="623.0" cy="1264.3" r="6.3"/>
<circle cx="629.6" cy="1271.6" r="6.3"/>
<circle cx="636.2" cy="1272.4" r="6.3"/>
<circle cx="642.8" cy="1272.4" r="6.3"/>
<circle cx="649.4" cy="1272.4" r="6.3"/>
<circle cx="655.9" cy="1271.6" r="6.3"/>
<circle cx="662.5" cy="1272.4" r="6.3"/>
<circle cx="669.1" cy="1271.6" r="6.3"/>
<circle cx="675.7" cy="1271.6" r="6.3"/>
<circle cx="682.2" cy="1271.6" r="6.3"/>
<circle cx="688.8" cy="1272.4" r="6.3"/>
<circle cx="695.4" cy="1273.2" r="6.3"/>
<circle cx="702.0" cy="1273.2" r="6.3"/>
<circle cx="708.5" cy="1273.2" r="6.3"/>
<circle cx="715.1" cy="1273.2" r="6.3"/>
<circle cx="721.7" cy="1273.0" r="6.3"/>
<circle cx="728.3" cy="1260.8" r="6.3"/>
<circle cx="734.8" cy="1261.9" r="6.3"/>
<circle cx="741.4" cy="1266.2" r="6.3"/>
<circle cx="748.0" cy="1271.6" r="6.3"/>
<circle cx="754.6" cy="1273.8" r="6.3"/>
<circle cx="761.1" cy="1274.3" r="6.3"/>
<circle cx="767.7" cy="1273.8" r="6.3"/>
<circle cx="774.3" cy="1274.3" r="6.3"/>
<circle cx="780.9" cy="1273.8" r="6.3"/>
<circle cx="787.4" cy="1274.3" r="6.3"/>
<circle cx="794.0" cy="1273.8" r="6.3"/>
<circle cx="800.6" cy="1271.1" r="6.3"/>
<circle cx="807.2" cy="1272.7" r="6.3"/>
<circle cx="813.8" cy="1273.8" r="6.3"/>
<circle cx="820.3" cy="1273.8" r="6.3"/>
<circle cx="826.9" cy="1273.2" r="6.3"/>
<circle cx="833.5" cy="1271.1" r="6.3"/>
<circle cx="840.1" cy="1273.2" r="6.3"/>
<circle cx="846.6" cy="1272.1" r="6.3"/>
<circle cx="853.2" cy="1273.8" r="6.3"/>
<circle cx="859.8" cy="1273.8" r="6.3"/>
</g>
<polyline points="143.00,895.39 144.45,897.32 145.89,899.26 147.34,901.21 148.79,903.17 150.23,905.15 151.68,907.14 153.13,909.15 154.57,911.16 156.02,913.19 157.47,915.23 158.91,917.28 160.36,919.35 161.81,921.42 163.25,923.51 164.70,925.60 166.15,927.71 167.59,929.83 169.04,931.95 170.49,934.09 171.93,936.24 173.38,938.39 174.83,940.56 176.27,942.73 177.72,944.92 179.17,947.11 180.61,949.30 182.06,951.51 183.51,953.72 184.95,955.95 186.40,958.17 187.85,960.41 189.30,962.65 190.74,964.89 192.19,967.14 193.64,969.40 195.08,971.66 196.53,973.93 197.98,976.20 199.42,978.47 200.87,980.75 202.32,983.03 203.76,985.32 205.21,987.60 206.66,989.89 208.10,992.18 209.55,994.48 211.00,996.77 212.44,999.06 213.89,1001.36 215.34,1003.65 216.78,1005.95 218.23,1008.24 219.68,1010.54 221.12,1012.83 222.57,1015.12 224.02,1017.41 225.46,1019.70 226.91,1021.98 228.36,1024.26 229.80,1026.54 231.25,1028.81 232.70,1031.08 234.14,1033.35 235.59,1035.61 237.04,1037.87 238.48,1040.12 239.93,1042.37 241.38,1044.61 242.82,1046.84 244.27,1049.07 245.72,1051.29 247.16,1053.50 248.61,1055.71 250.06,1057.91 251.50,1060.10 252.95,1062.28 254.40,1064.45 255.84,1066.62 257.29,1068.77 258.74,1070.92 260.18,1073.06 261.63,1075.18 263.08,1077.30 264.52,1079.41 265.97,1081.50 267.42,1083.59 268.86,1085.66 270.31,1087.73 271.76,1089.78 273.20,1091.82 274.65,1093.85 276.10,1095.86 277.54,1097.87 278.99,1099.86 280.44,1101.84 281.89,1103.80 283.33,1105.75 284.78,1107.69 286.23,1109.62 287.67,1111.53 289.12,1113.43 290.57,1115.32 292.01,1117.19 293.46,1119.05 294.91,1120.89 296.35,1122.72 297.80,1124.53 299.25,1126.33 300.69,1128.12 302.14,1129.89 303.59,1131.65 305.03,1133.39 306.48,1135.12 307.93,1136.83 309.37,1138.53 310.82,1140.21 312.27,1141.87 313.71,1143.53 315.16,1145.16 316.61,1146.78 318.05,1148.39 319.50,1149.98 320.95,1151.56 322.39,1153.12 323.84,1154.66 325.29,1156.19 326.73,1157.70 328.18,1159.20 329.63,1160.69 331.07,1162.16 332.52,1163.61 333.97,1165.05 335.41,1166.47 336.86,1167.88 338.31,1169.27 339.75,1170.65 341.20,1172.01 342.65,1173.35 344.09,1174.69 345.54,1176.00 346.99,1177.31 348.43,1178.59 349.88,1179.87 351.33,1181.12 352.77,1182.37 354.22,1183.60 355.67,1184.81 357.11,1186.01 358.56,1187.20 360.01,1188.37 361.45,1189.53 362.90,1190.67 364.35,1191.80 365.79,1192.91 367.24,1194.01 368.69,1195.10 370.14,1196.18 371.58,1197.24 373.03,1198.28 374.48,1199.32 375.92,1200.34 377.37,1201.34 378.82,1202.34 380.26,1203.32 381.71,1204.29 383.16,1205.25 384.60,1206.19 386.05,1207.12 387.50,1208.04 388.94,1208.94 390.39,1209.84 391.84,1210.72 393.28,1211.59 394.73,1212.45 396.18,1213.29 397.62,1214.13 399.07,1214.95 400.52,1215.76 401.96,1216.57 403.41,1217.35 404.86,1218.13 406.30,1218.90 407.75,1219.66 409.20,1220.40 410.64,1221.14 412.09,1221.86 413.54,1222.58 414.98,1223.28 416.43,1223.98 417.88,1224.66 419.32,1225.34 420.77,1226.00 422.22,1226.66 423.66,1227.30 425.11,1227.94 426.56,1228.57 428.00,1229.18 429.45,1229.79 430.90,1230.39 432.34,1230.98 433.79,1231.56 435.24,1232.14 436.68,1232.70 438.13,1233.26 439.58,1233.81 441.02,1234.35 442.47,1234.88 443.92,1235.40 445.36,1235.92 446.81,1236.42 448.26,1236.92 449.70,1237.42 451.15,1237.90 452.60,1238.38 454.04,1238.85 455.49,1239.31 456.94,1239.77 458.38,1240.22 459.83,1240.66 461.28,1241.09 462.73,1241.52 464.17,1241.94 465.62,1242.36 467.07,1242.77 468.51,1243.17 469.96,1243.57 471.41,1243.96 472.85,1244.34 474.30,1244.72 475.75,1245.09 477.19,1245.46 478.64,1245.82 480.09,1246.17 481.53,1246.52 482.98,1246.86 484.43,1247.20 485.87,1247.53 487.32,1247.86 488.77,1248.18 490.21,1248.50 491.66,1248.81 493.11,1249.12 494.55,1249.42 496.00,1249.71 497.45,1250.01 498.89,1250.29 500.34,1250.58 501.79,1250.86 503.23,1251.13 504.68,1251.40 506.13,1251.66 507.57,1251.93 509.02,1252.18 510.47,1252.43 511.91,1252.68 513.36,1252.93 514.81,1253.17 516.25,1253.40 517.70,1253.64 519.15,1253.86 520.59,1254.09 522.04,1254.31 523.49,1254.53 524.93,1254.74 526.38,1254.95 527.83,1255.16 529.27,1255.36 530.72,1255.56 532.17,1255.76 533.61,1255.96 535.06,1256.15 536.51,1256.33 537.95,1256.52 539.40,1256.70 540.85,1256.88 542.29,1257.05 543.74,1257.23 545.19,1257.40 546.63,1257.56 548.08,1257.73 549.53,1257.89 550.98,1258.05 552.42,1258.20 553.87,1258.36 555.32,1258.51 556.76,1258.66 558.21,1258.80 559.66,1258.95 561.10,1259.09 562.55,1259.23 564.00,1259.36 565.44,1259.50 566.89,1259.63 568.34,1259.76 569.78,1259.89 571.23,1260.01 572.68,1260.14 574.12,1260.26 575.57,1260.38 577.02,1260.49 578.46,1260.61 579.91,1260.72 581.36,1260.83 582.80,1260.94 584.25,1261.05 585.70,1261.16 587.14,1261.26 588.59,1261.36 590.04,1261.47 591.48,1261.56 592.93,1261.66 594.38,1261.76 595.82,1261.85 597.27,1261.94 598.72,1262.04 600.16,1262.12 601.61,1262.21 603.06,1262.30 604.50,1262.38 605.95,1262.47 607.40,1262.55 608.84,1262.63 610.29,1262.71 611.74,1262.79 613.18,1262.86 614.63,1262.94 616.08,1263.01 617.52,1263.09 618.97,1263.16 620.42,1263.23 621.86,1263.30 623.31,1263.37 624.76,1263.43 626.20,1263.50 627.65,1263.56 629.10,1263.63 630.54,1263.69 631.99,1263.75 633.44,1263.81 634.88,1263.87 636.33,1263.93 637.78,1263.99 639.22,1264.04 640.67,1264.10 642.12,1264.15 643.57,1264.21 645.01,1264.26 646.46,1264.31 647.91,1264.36 649.35,1264.41 650.80,1264.46 652.25,1264.51 653.69,1264.56 655.14,1264.61 656.59,1264.65 658.03,1264.70 659.48,1264.74 660.93,1264.78 662.37,1264.83 663.82,1264.87 665.27,1264.91 666.71,1264.95 668.16,1264.99 669.61,1265.03 671.05,1265.07 672.50,1265.11 673.95,1265.15 675.39,1265.18 676.84,1265.22 678.29,1265.25 679.73,1265.29 681.18,1265.32 682.63,1265.36 684.07,1265.39 685.52,1265.42 686.97,1265.45 688.41,1265.49 689.86,1265.52 691.31,1265.55 692.75,1265.58 694.20,1265.61 695.65,1265.64 697.09,1265.66 698.54,1265.69 699.99,1265.72 701.43,1265.75 702.88,1265.77 704.33,1265.80 705.77,1265.82 707.22,1265.85 708.67,1265.87 710.11,1265.90 711.56,1265.92 713.01,1265.95 714.45,1265.97 715.90,1265.99 717.35,1266.01 718.79,1266.04 720.24,1266.06 721.69,1266.08 723.13,1266.10 724.58,1266.12 726.03,1266.14 727.47,1266.16 728.92,1266.18 730.37,1266.20 731.82,1266.22 733.26,1266.24 734.71,1266.25 736.16,1266.27 737.60,1266.29 739.05,1266.31 740.50,1266.32 741.94,1266.34 743.39,1266.36 744.84,1266.37 746.28,1266.39 747.73,1266.40 749.18,1266.42 750.62,1266.43 752.07,1266.45 753.52,1266.46 754.96,1266.48 756.41,1266.49 757.86,1266.50 759.30,1266.52 760.75,1266.53 762.20,1266.54 763.64,1266.56 765.09,1266.57 766.54,1266.58 767.98,1266.59 769.43,1266.61 770.88,1266.62 772.32,1266.63 773.77,1266.64 775.22,1266.65 776.66,1266.66 778.11,1266.67 779.56,1266.69 781.00,1266.70 782.45,1266.71 783.90,1266.72 785.34,1266.73 786.79,1266.74 788.24,1266.75 789.68,1266.75 791.13,1266.76 792.58,1266.77 794.02,1266.78 795.47,1266.79 796.92,1266.80 798.36,1266.81 799.81,1266.82 801.26,1266.82 802.70,1266.83 804.15,1266.84 805.60,1266.85 807.04,1266.86 808.49,1266.86 809.94,1266.87 811.38,1266.88 812.83,1266.88 814.28,1266.89 815.72,1266.90 817.17,1266.91 818.62,1266.91 820.06,1266.92 821.51,1266.92 822.96,1266.93 824.41,1266.94 825.85,1266.94 827.30,1266.95 828.75,1266.96 830.19,1266.96 831.64,1266.97 833.09,1266.97 834.53,1266.98 835.98,1266.98 837.43,1266.99 838.87,1266.99 840.32,1267.00 841.77,1267.00 843.21,1267.01 844.66,1267.01 846.11,1267.02 847.55,1267.02 849.00,1267.03 850.45,1267.03 851.89,1267.04 853.34,1267.04 854.79,1267.05 856.23,1267.05 857.68,1267.05 859.13,1267.06 860.57,1267.06 862.02,1267.07 863.47,1267.07 864.91,1267.07 866.36,1267.08" fill="none" stroke="#ff00ff" stroke-width="2.0" stroke-linejoin="round" clip-path="url(#clipc)"/>
<g stroke="#444" stroke-width="2" fill="none" stroke-linecap="square">
<line x1="143.0" y1="737.7" x2="143.0" y2="1277.0"/>
<line x1="143.0" y1="1277.0" x2="866.4" y2="1277.0"/>
</g><g stroke="#444" stroke-width="2" fill="none">
<line x1="143.0" y1="1277.0" x2="143.0" y2="1286.0"/>
<line x1="175.9" y1="1277.0" x2="175.9" y2="1282.0"/>
<line x1="208.8" y1="1277.0" x2="208.8" y2="1286.0"/>
<line x1="241.6" y1="1277.0" x2="241.6" y2="1282.0"/>
<line x1="274.5" y1="1277.0" x2="274.5" y2="1286.0"/>
<line x1="307.4" y1="1277.0" x2="307.4" y2="1282.0"/>
<line x1="340.3" y1="1277.0" x2="340.3" y2="1286.0"/>
<line x1="373.2" y1="1277.0" x2="373.2" y2="1282.0"/>
<line x1="406.0" y1="1277.0" x2="406.0" y2="1286.0"/>
<line x1="438.9" y1="1277.0" x2="438.9" y2="1282.0"/>
<line x1="471.8" y1="1277.0" x2="471.8" y2="1286.0"/>
<line x1="504.7" y1="1277.0" x2="504.7" y2="1282.0"/>
<line x1="537.6" y1="1277.0" x2="537.6" y2="1286.0"/>
<line x1="570.4" y1="1277.0" x2="570.4" y2="1282.0"/>
<line x1="603.3" y1="1277.0" x2="603.3" y2="1286.0"/>
<line x1="636.2" y1="1277.0" x2="636.2" y2="1282.0"/>
<line x1="669.1" y1="1277.0" x2="669.1" y2="1286.0"/>
<line x1="702.0" y1="1277.0" x2="702.0" y2="1282.0"/>
<line x1="734.8" y1="1277.0" x2="734.8" y2="1286.0"/>
<line x1="767.7" y1="1277.0" x2="767.7" y2="1282.0"/>
<line x1="800.6" y1="1277.0" x2="800.6" y2="1286.0"/>
<line x1="833.5" y1="1277.0" x2="833.5" y2="1282.0"/>
<line x1="866.4" y1="1277.0" x2="866.4" y2="1286.0"/>
<line x1="134.0" y1="1277.0" x2="143.0" y2="1277.0"/>
<line x1="138.0" y1="1223.1" x2="143.0" y2="1223.1"/>
<line x1="134.0" y1="1169.1" x2="143.0" y2="1169.1"/>
<line x1="138.0" y1="1115.2" x2="143.0" y2="1115.2"/>
<line x1="134.0" y1="1061.3" x2="143.0" y2="1061.3"/>
<line x1="138.0" y1="1007.4" x2="143.0" y2="1007.4"/>
<line x1="134.0" y1="953.4" x2="143.0" y2="953.4"/>
<line x1="138.0" y1="899.5" x2="143.0" y2="899.5"/>
<line x1="134.0" y1="845.6" x2="143.0" y2="845.6"/>
<line x1="138.0" y1="791.6" x2="143.0" y2="791.6"/>
<line x1="134.0" y1="737.7" x2="143.0" y2="737.7"/>
</g>
<g font-size="33" fill="#000">
<text x="143.0" y="1317.9" text-anchor="middle">0</text>
<text x="208.8" y="1317.9" text-anchor="middle">10</text>
<text x="274.5" y="1317.9" text-anchor="middle">20</text>
<text x="340.3" y="1317.9" text-anchor="middle">30</text>
<text x="406.0" y="1317.9" text-anchor="middle">40</text>
<text x="471.8" y="1317.9" text-anchor="middle">50</text>
<text x="537.6" y="1317.9" text-anchor="middle">60</text>
<text x="603.3" y="1317.9" text-anchor="middle">70</text>
<text x="669.1" y="1317.9" text-anchor="middle">80</text>
<text x="734.8" y="1317.9" text-anchor="middle">90</text>
<text x="800.6" y="1317.9" text-anchor="middle">100</text>
<text x="866.4" y="1317.9" text-anchor="middle">110</text>
<text x="128.7" y="1286.3" text-anchor="end">0.0</text>
<text x="128.7" y="1178.4" text-anchor="end">0.2</text>
<text x="128.7" y="1070.6" text-anchor="end">0.4</text>
<text x="128.7" y="962.7" text-anchor="end">0.6</text>
<text x="128.7" y="854.9" text-anchor="end">0.8</text>
<text x="128.7" y="747.0" text-anchor="end">1.0</text>
</g>
<text x="165.4" y="761.2" font-size="55">(c)</text>
<line x1="687.9" y1="767.2" x2="762.8" y2="767.2" stroke="#ff00ff" stroke-width="2.4"/>
<text x="770.4" y="778.8" font-size="33">2009</text>
<text x="279.3" y="1366.3" font-size="35.5">Distance to the city center (km)</text>
<text transform="translate(72.7,1246.0) rotate(-90)" x="0" y="0" font-size="35.5">Urban impervious surface density</text>
<g font-size="33.0">
<text x="595.8" y="1006.6" font-style="italic">a</text>
<text transform="translate(619.3,1006.6) scale(1.16,1)">=</text>
<text x="656.9" y="1006.6">0.858</text>
<text x="595.8" y="1047.1" font-style="italic">c</text>
<text transform="translate(617.9,1047.1) scale(1.16,1)">=</text>
<text x="663.2" y="1047.1">0.018</text>
<text x="597.1" y="1088.3" font-style="italic">D</text>
<text transform="translate(627.7,1088.3) scale(1.16,1)">=</text>
<text x="663.9" y="1088.3">21.778</text>
<text x="597.2" y="1133.7">Adj.</text>
<text x="663.5" y="1133.7">R</text>
<text x="685.2" y="1121.4" font-size="22">2</text>
<text transform="translate(703.8,1133.7) scale(1.16,1)">=</text>
<text x="741.4" y="1133.7">0.965</text>
</g>
<g clip-path="url(#clipd)" fill="none" stroke="#ff1010" stroke-width="2.0">
<circle cx="1012.2" cy="792.7" r="6.3"/>
<circle cx="1018.8" cy="798.6" r="6.3"/>
<circle cx="1025.4" cy="836.1" r="6.3"/>
<circle cx="1031.9" cy="872.5" r="6.3"/>
<circle cx="1038.5" cy="862.5" r="6.3"/>
<circle cx="1045.1" cy="888.2" r="6.3"/>
<circle cx="1051.7" cy="884.4" r="6.3"/>
<circle cx="1058.3" cy="899.0" r="6.3"/>
<circle cx="1064.8" cy="944.8" r="6.3"/>
<circle cx="1071.4" cy="966.1" r="6.3"/>
<circle cx="1078.0" cy="967.2" r="6.3"/>
<circle cx="1084.6" cy="952.5" r="6.3"/>
<circle cx="1091.2" cy="975.0" r="6.3"/>
<circle cx="1097.8" cy="988.1" r="6.3"/>
<circle cx="1104.3" cy="1002.7" r="6.3"/>
<circle cx="1110.9" cy="1002.2" r="6.3"/>
<circle cx="1117.5" cy="998.7" r="6.3"/>
<circle cx="1124.1" cy="1007.7" r="6.3"/>
<circle cx="1130.7" cy="1015.8" r="6.3"/>
<circle cx="1137.2" cy="1039.9" r="6.3"/>
<circle cx="1143.8" cy="1028.8" r="6.3"/>
<circle cx="1150.4" cy="1036.9" r="6.3"/>
<circle cx="1157.0" cy="1034.9" r="6.3"/>
<circle cx="1163.6" cy="1049.5" r="6.3"/>
<circle cx="1170.1" cy="1036.9" r="6.3"/>
<circle cx="1176.7" cy="1046.4" r="6.3"/>
<circle cx="1183.3" cy="1048.4" r="6.3"/>
<circle cx="1189.9" cy="1071.1" r="6.3"/>
<circle cx="1196.5" cy="1061.0" r="6.3"/>
<circle cx="1203.0" cy="1056.4" r="6.3"/>
<circle cx="1209.6" cy="1057.6" r="6.3"/>
<circle cx="1216.2" cy="1070.6" r="6.3"/>
<circle cx="1222.8" cy="1087.7" r="6.3"/>
<circle cx="1229.4" cy="1101.8" r="6.3"/>
<circle cx="1236.0" cy="1098.8" r="6.3"/>
<circle cx="1242.5" cy="1088.2" r="6.3"/>
<circle cx="1249.1" cy="1109.9" r="6.3"/>
<circle cx="1255.7" cy="1099.8" r="6.3"/>
<circle cx="1262.3" cy="1065.6" r="6.3"/>
<circle cx="1268.9" cy="1082.9" r="6.3"/>
<circle cx="1275.4" cy="1092.3" r="6.3"/>
<circle cx="1282.0" cy="1110.9" r="6.3"/>
<circle cx="1288.6" cy="1152.1" r="6.3"/>
<circle cx="1295.2" cy="1185.9" r="6.3"/>
<circle cx="1301.8" cy="1184.9" r="6.3"/>
<circle cx="1308.3" cy="1189.4" r="6.3"/>
<circle cx="1314.9" cy="1192.4" r="6.3"/>
<circle cx="1321.5" cy="1205.5" r="6.3"/>
<circle cx="1328.1" cy="1203.5" r="6.3"/>
<circle cx="1334.7" cy="1221.1" r="6.3"/>
<circle cx="1341.2" cy="1226.6" r="6.3"/>
<circle cx="1347.8" cy="1224.6" r="6.3"/>
<circle cx="1354.4" cy="1221.6" r="6.3"/>
<circle cx="1361.0" cy="1218.1" r="6.3"/>
<circle cx="1367.6" cy="1217.1" r="6.3"/>
<circle cx="1374.2" cy="1219.6" r="6.3"/>
<circle cx="1380.7" cy="1212.5" r="6.3"/>
<circle cx="1387.3" cy="1205.5" r="6.3"/>
<circle cx="1393.9" cy="1179.9" r="6.3"/>
<circle cx="1400.5" cy="1174.0" r="6.3"/>
<circle cx="1407.1" cy="1169.1" r="6.3"/>
<circle cx="1413.6" cy="1190.7" r="6.3"/>
<circle cx="1420.2" cy="1178.6" r="6.3"/>
<circle cx="1426.8" cy="1191.8" r="6.3"/>
<circle cx="1433.4" cy="1199.9" r="6.3"/>
<circle cx="1440.0" cy="1212.3" r="6.3"/>
<circle cx="1446.5" cy="1216.9" r="6.3"/>
<circle cx="1453.1" cy="1224.7" r="6.3"/>
<circle cx="1459.7" cy="1230.5" r="6.3"/>
<circle cx="1466.3" cy="1237.3" r="6.3"/>
<circle cx="1472.9" cy="1250.0" r="6.3"/>
<circle cx="1479.5" cy="1261.0" r="6.3"/>
<circle cx="1486.0" cy="1251.8" r="6.3"/>
<circle cx="1492.6" cy="1252.8" r="6.3"/>
<circle cx="1499.2" cy="1262.5" r="6.3"/>
<circle cx="1505.8" cy="1271.2" r="6.3"/>
<circle cx="1512.4" cy="1270.2" r="6.3"/>
<circle cx="1518.9" cy="1271.2" r="6.3"/>
<circle cx="1525.5" cy="1270.2" r="6.3"/>
<circle cx="1532.1" cy="1268.9" r="6.3"/>
<circle cx="1538.7" cy="1260.8" r="6.3"/>
<circle cx="1545.3" cy="1261.6" r="6.3"/>
<circle cx="1551.8" cy="1262.2" r="6.3"/>
<circle cx="1558.4" cy="1266.2" r="6.3"/>
<circle cx="1565.0" cy="1269.2" r="6.3"/>
<circle cx="1571.6" cy="1270.5" r="6.3"/>
<circle cx="1578.2" cy="1272.3" r="6.3"/>
<circle cx="1584.7" cy="1272.3" r="6.3"/>
<circle cx="1591.3" cy="1270.5" r="6.3"/>
<circle cx="1597.9" cy="1267.3" r="6.3"/>
<circle cx="1604.5" cy="1263.5" r="6.3"/>
<circle cx="1611.1" cy="1272.3" r="6.3"/>
<circle cx="1617.7" cy="1272.3" r="6.3"/>
<circle cx="1624.2" cy="1272.3" r="6.3"/>
<circle cx="1630.8" cy="1269.2" r="6.3"/>
<circle cx="1637.4" cy="1269.2" r="6.3"/>
<circle cx="1644.0" cy="1264.3" r="6.3"/>
<circle cx="1650.6" cy="1265.7" r="6.3"/>
<circle cx="1657.1" cy="1265.7" r="6.3"/>
<circle cx="1663.7" cy="1265.7" r="6.3"/>
<circle cx="1670.3" cy="1265.7" r="6.3"/>
<circle cx="1676.9" cy="1268.0" r="6.3"/>
<circle cx="1683.5" cy="1260.8" r="6.3"/>
<circle cx="1690.0" cy="1268.0" r="6.3"/>
<circle cx="1696.6" cy="1264.3" r="6.3"/>
<circle cx="1703.2" cy="1250.8" r="6.3"/>
<circle cx="1709.8" cy="1263.5" r="6.3"/>
<circle cx="1716.4" cy="1263.5" r="6.3"/>
<circle cx="1722.9" cy="1266.2" r="6.3"/>
<circle cx="1729.5" cy="1269.2" r="6.3"/>
</g>
<polyline points="1012.20,872.11 1013.65,873.34 1015.10,874.58 1016.54,875.83 1017.99,877.08 1019.44,878.34 1020.89,879.61 1022.33,880.88 1023.78,882.17 1025.23,883.46 1026.68,884.75 1028.13,886.06 1029.57,887.37 1031.02,888.69 1032.47,890.01 1033.92,891.34 1035.37,892.68 1036.81,894.03 1038.26,895.38 1039.71,896.74 1041.16,898.11 1042.60,899.48 1044.05,900.86 1045.50,902.25 1046.95,903.64 1048.40,905.04 1049.84,906.44 1051.29,907.86 1052.74,909.27 1054.19,910.70 1055.63,912.13 1057.08,913.57 1058.53,915.01 1059.98,916.46 1061.43,917.91 1062.87,919.37 1064.32,920.84 1065.77,922.31 1067.22,923.79 1068.66,925.27 1070.11,926.76 1071.56,928.26 1073.01,929.76 1074.46,931.26 1075.90,932.77 1077.35,934.29 1078.80,935.80 1080.25,937.33 1081.70,938.86 1083.14,940.39 1084.59,941.93 1086.04,943.47 1087.49,945.02 1088.93,946.57 1090.38,948.13 1091.83,949.69 1093.28,951.25 1094.73,952.82 1096.17,954.39 1097.62,955.97 1099.07,957.55 1100.52,959.13 1101.96,960.71 1103.41,962.30 1104.86,963.90 1106.31,965.49 1107.76,967.09 1109.20,968.69 1110.65,970.29 1112.10,971.90 1113.55,973.51 1115.00,975.12 1116.44,976.73 1117.89,978.35 1119.34,979.97 1120.79,981.59 1122.23,983.21 1123.68,984.83 1125.13,986.46 1126.58,988.08 1128.03,989.71 1129.47,991.34 1130.92,992.97 1132.37,994.60 1133.82,996.23 1135.26,997.86 1136.71,999.49 1138.16,1001.13 1139.61,1002.76 1141.06,1004.39 1142.50,1006.03 1143.95,1007.66 1145.40,1009.30 1146.85,1010.93 1148.30,1012.56 1149.74,1014.19 1151.19,1015.83 1152.64,1017.46 1154.09,1019.09 1155.53,1020.72 1156.98,1022.35 1158.43,1023.97 1159.88,1025.60 1161.33,1027.22 1162.77,1028.85 1164.22,1030.47 1165.67,1032.09 1167.12,1033.71 1168.56,1035.32 1170.01,1036.93 1171.46,1038.55 1172.91,1040.15 1174.36,1041.76 1175.80,1043.36 1177.25,1044.97 1178.70,1046.56 1180.15,1048.16 1181.59,1049.75 1183.04,1051.34 1184.49,1052.92 1185.94,1054.51 1187.39,1056.09 1188.83,1057.66 1190.28,1059.23 1191.73,1060.80 1193.18,1062.36 1194.63,1063.92 1196.07,1065.48 1197.52,1067.03 1198.97,1068.58 1200.42,1070.12 1201.86,1071.66 1203.31,1073.19 1204.76,1074.72 1206.21,1076.25 1207.66,1077.77 1209.10,1079.28 1210.55,1080.79 1212.00,1082.30 1213.45,1083.79 1214.89,1085.29 1216.34,1086.78 1217.79,1088.26 1219.24,1089.74 1220.69,1091.21 1222.13,1092.68 1223.58,1094.14 1225.03,1095.59 1226.48,1097.04 1227.93,1098.48 1229.37,1099.92 1230.82,1101.35 1232.27,1102.77 1233.72,1104.19 1235.16,1105.60 1236.61,1107.01 1238.06,1108.41 1239.51,1109.80 1240.96,1111.19 1242.40,1112.57 1243.85,1113.94 1245.30,1115.31 1246.75,1116.67 1248.19,1118.02 1249.64,1119.36 1251.09,1120.70 1252.54,1122.03 1253.99,1123.36 1255.43,1124.68 1256.88,1125.99 1258.33,1127.29 1259.78,1128.59 1261.23,1129.88 1262.67,1131.16 1264.12,1132.43 1265.57,1133.70 1267.02,1134.96 1268.46,1136.21 1269.91,1137.46 1271.36,1138.70 1272.81,1139.93 1274.26,1141.15 1275.70,1142.37 1277.15,1143.58 1278.60,1144.78 1280.05,1145.97 1281.49,1147.15 1282.94,1148.33 1284.39,1149.50 1285.84,1150.67 1287.29,1151.82 1288.73,1152.97 1290.18,1154.11 1291.63,1155.24 1293.08,1156.36 1294.52,1157.48 1295.97,1158.59 1297.42,1159.69 1298.87,1160.79 1300.32,1161.87 1301.76,1162.95 1303.21,1164.02 1304.66,1165.09 1306.11,1166.14 1307.56,1167.19 1309.00,1168.23 1310.45,1169.26 1311.90,1170.29 1313.35,1171.31 1314.79,1172.32 1316.24,1173.32 1317.69,1174.31 1319.14,1175.30 1320.59,1176.28 1322.03,1177.25 1323.48,1178.22 1324.93,1179.17 1326.38,1180.12 1327.82,1181.06 1329.27,1182.00 1330.72,1182.93 1332.17,1183.85 1333.62,1184.76 1335.06,1185.66 1336.51,1186.56 1337.96,1187.45 1339.41,1188.33 1340.86,1189.21 1342.30,1190.08 1343.75,1190.94 1345.20,1191.79 1346.65,1192.64 1348.09,1193.48 1349.54,1194.31 1350.99,1195.14 1352.44,1195.96 1353.89,1196.77 1355.33,1197.57 1356.78,1198.37 1358.23,1199.16 1359.68,1199.94 1361.12,1200.72 1362.57,1201.49 1364.02,1202.25 1365.47,1203.01 1366.92,1203.76 1368.36,1204.50 1369.81,1205.24 1371.26,1205.97 1372.71,1206.69 1374.16,1207.41 1375.60,1208.12 1377.05,1208.82 1378.50,1209.52 1379.95,1210.21 1381.39,1210.89 1382.84,1211.57 1384.29,1212.24 1385.74,1212.91 1387.19,1213.57 1388.63,1214.22 1390.08,1214.87 1391.53,1215.51 1392.98,1216.14 1394.42,1216.77 1395.87,1217.39 1397.32,1218.01 1398.77,1218.62 1400.22,1219.23 1401.66,1219.83 1403.11,1220.42 1404.56,1221.01 1406.01,1221.59 1407.45,1222.16 1408.90,1222.73 1410.35,1223.30 1411.80,1223.86 1413.25,1224.41 1414.69,1224.96 1416.14,1225.50 1417.59,1226.04 1419.04,1226.57 1420.49,1227.10 1421.93,1227.62 1423.38,1228.14 1424.83,1228.65 1426.28,1229.16 1427.72,1229.66 1429.17,1230.15 1430.62,1230.65 1432.07,1231.13 1433.52,1231.61 1434.96,1232.09 1436.41,1232.56 1437.86,1233.03 1439.31,1233.49 1440.75,1233.94 1442.20,1234.40 1443.65,1234.84 1445.10,1235.29 1446.55,1235.73 1447.99,1236.16 1449.44,1236.59 1450.89,1237.01 1452.34,1237.43 1453.79,1237.85 1455.23,1238.26 1456.68,1238.67 1458.13,1239.07 1459.58,1239.47 1461.02,1239.87 1462.47,1240.26 1463.92,1240.64 1465.37,1241.02 1466.82,1241.40 1468.26,1241.78 1469.71,1242.15 1471.16,1242.51 1472.61,1242.88 1474.05,1243.23 1475.50,1243.59 1476.95,1243.94 1478.40,1244.29 1479.85,1244.63 1481.29,1244.97 1482.74,1245.31 1484.19,1245.64 1485.64,1245.97 1487.08,1246.29 1488.53,1246.61 1489.98,1246.93 1491.43,1247.25 1492.88,1247.56 1494.32,1247.87 1495.77,1248.17 1497.22,1248.47 1498.67,1248.77 1500.12,1249.06 1501.56,1249.35 1503.01,1249.64 1504.46,1249.93 1505.91,1250.21 1507.35,1250.49 1508.80,1250.76 1510.25,1251.04 1511.70,1251.31 1513.15,1251.57 1514.59,1251.84 1516.04,1252.10 1517.49,1252.35 1518.94,1252.61 1520.38,1252.86 1521.83,1253.11 1523.28,1253.36 1524.73,1253.60 1526.18,1253.84 1527.62,1254.08 1529.07,1254.32 1530.52,1254.55 1531.97,1254.78 1533.42,1255.01 1534.86,1255.23 1536.31,1255.46 1537.76,1255.68 1539.21,1255.89 1540.65,1256.11 1542.10,1256.32 1543.55,1256.53 1545.00,1256.74 1546.45,1256.95 1547.89,1257.15 1549.34,1257.35 1550.79,1257.55 1552.24,1257.75 1553.68,1257.94 1555.13,1258.13 1556.58,1258.32 1558.03,1258.51 1559.48,1258.70 1560.92,1258.88 1562.37,1259.06 1563.82,1259.24 1565.27,1259.42 1566.72,1259.59 1568.16,1259.77 1569.61,1259.94 1571.06,1260.11 1572.51,1260.27 1573.95,1260.44 1575.40,1260.60 1576.85,1260.77 1578.30,1260.92 1579.75,1261.08 1581.19,1261.24 1582.64,1261.39 1584.09,1261.55 1585.54,1261.70 1586.98,1261.85 1588.43,1261.99 1589.88,1262.14 1591.33,1262.28 1592.78,1262.43 1594.22,1262.57 1595.67,1262.70 1597.12,1262.84 1598.57,1262.98 1600.01,1263.11 1601.46,1263.24 1602.91,1263.38 1604.36,1263.51 1605.81,1263.63 1607.25,1263.76 1608.70,1263.89 1610.15,1264.01 1611.60,1264.13 1613.05,1264.25 1614.49,1264.37 1615.94,1264.49 1617.39,1264.61 1618.84,1264.72 1620.28,1264.84 1621.73,1264.95 1623.18,1265.06 1624.63,1265.17 1626.08,1265.28 1627.52,1265.39 1628.97,1265.49 1630.42,1265.60 1631.87,1265.70 1633.31,1265.80 1634.76,1265.90 1636.21,1266.00 1637.66,1266.10 1639.11,1266.20 1640.55,1266.30 1642.00,1266.39 1643.45,1266.49 1644.90,1266.58 1646.35,1266.67 1647.79,1266.76 1649.24,1266.85 1650.69,1266.94 1652.14,1267.03 1653.58,1267.12 1655.03,1267.20 1656.48,1267.29 1657.93,1267.37 1659.38,1267.46 1660.82,1267.54 1662.27,1267.62 1663.72,1267.70 1665.17,1267.78 1666.61,1267.86 1668.06,1267.93 1669.51,1268.01 1670.96,1268.08 1672.41,1268.16 1673.85,1268.23 1675.30,1268.30 1676.75,1268.38 1678.20,1268.45 1679.65,1268.52 1681.09,1268.59 1682.54,1268.66 1683.99,1268.72 1685.44,1268.79 1686.88,1268.86 1688.33,1268.92 1689.78,1268.99 1691.23,1269.05 1692.68,1269.11 1694.12,1269.17 1695.57,1269.24 1697.02,1269.30 1698.47,1269.36 1699.91,1269.42 1701.36,1269.47 1702.81,1269.53 1704.26,1269.59 1705.71,1269.65 1707.15,1269.70 1708.60,1269.76 1710.05,1269.81 1711.50,1269.87 1712.94,1269.92 1714.39,1269.97 1715.84,1270.02 1717.29,1270.08 1718.74,1270.13 1720.18,1270.18 1721.63,1270.23 1723.08,1270.28 1724.53,1270.32 1725.98,1270.37 1727.42,1270.42 1728.87,1270.47 1730.32,1270.51 1731.77,1270.56 1733.21,1270.60 1734.66,1270.65 1736.11,1270.69" fill="none" stroke="#ff1010" stroke-width="2.0" stroke-linejoin="round" clip-path="url(#clipd)"/>
<g stroke="#444" stroke-width="2" fill="none" stroke-linecap="square">
<line x1="1012.2" y1="737.7" x2="1012.2" y2="1277.0"/>
<line x1="1012.2" y1="1277.0" x2="1736.1" y2="1277.0"/>
</g><g stroke="#444" stroke-width="2" fill="none">
<line x1="1012.2" y1="1277.0" x2="1012.2" y2="1286.0"/>
<line x1="1045.1" y1="1277.0" x2="1045.1" y2="1282.0"/>
<line x1="1078.0" y1="1277.0" x2="1078.0" y2="1286.0"/>
<line x1="1110.9" y1="1277.0" x2="1110.9" y2="1282.0"/>
<line x1="1143.8" y1="1277.0" x2="1143.8" y2="1286.0"/>
<line x1="1176.7" y1="1277.0" x2="1176.7" y2="1282.0"/>
<line x1="1209.6" y1="1277.0" x2="1209.6" y2="1286.0"/>
<line x1="1242.5" y1="1277.0" x2="1242.5" y2="1282.0"/>
<line x1="1275.4" y1="1277.0" x2="1275.4" y2="1286.0"/>
<line x1="1308.3" y1="1277.0" x2="1308.3" y2="1282.0"/>
<line x1="1341.2" y1="1277.0" x2="1341.2" y2="1286.0"/>
<line x1="1374.2" y1="1277.0" x2="1374.2" y2="1282.0"/>
<line x1="1407.1" y1="1277.0" x2="1407.1" y2="1286.0"/>
<line x1="1440.0" y1="1277.0" x2="1440.0" y2="1282.0"/>
<line x1="1472.9" y1="1277.0" x2="1472.9" y2="1286.0"/>
<line x1="1505.8" y1="1277.0" x2="1505.8" y2="1282.0"/>
<line x1="1538.7" y1="1277.0" x2="1538.7" y2="1286.0"/>
<line x1="1571.6" y1="1277.0" x2="1571.6" y2="1282.0"/>
<line x1="1604.5" y1="1277.0" x2="1604.5" y2="1286.0"/>
<line x1="1637.4" y1="1277.0" x2="1637.4" y2="1282.0"/>
<line x1="1670.3" y1="1277.0" x2="1670.3" y2="1286.0"/>
<line x1="1703.2" y1="1277.0" x2="1703.2" y2="1282.0"/>
<line x1="1736.1" y1="1277.0" x2="1736.1" y2="1286.0"/>
<line x1="1003.2" y1="1277.0" x2="1012.2" y2="1277.0"/>
<line x1="1007.2" y1="1223.1" x2="1012.2" y2="1223.1"/>
<line x1="1003.2" y1="1169.1" x2="1012.2" y2="1169.1"/>
<line x1="1007.2" y1="1115.2" x2="1012.2" y2="1115.2"/>
<line x1="1003.2" y1="1061.3" x2="1012.2" y2="1061.3"/>
<line x1="1007.2" y1="1007.4" x2="1012.2" y2="1007.4"/>
<line x1="1003.2" y1="953.4" x2="1012.2" y2="953.4"/>
<line x1="1007.2" y1="899.5" x2="1012.2" y2="899.5"/>
<line x1="1003.2" y1="845.6" x2="1012.2" y2="845.6"/>
<line x1="1007.2" y1="791.6" x2="1012.2" y2="791.6"/>
<line x1="1003.2" y1="737.7" x2="1012.2" y2="737.7"/>
</g>
<g font-size="33" fill="#000">
<text x="1012.2" y="1317.9" text-anchor="middle">0</text>
<text x="1078.0" y="1317.9" text-anchor="middle">10</text>
<text x="1143.8" y="1317.9" text-anchor="middle">20</text>
<text x="1209.6" y="1317.9" text-anchor="middle">30</text>
<text x="1275.4" y="1317.9" text-anchor="middle">40</text>
<text x="1341.2" y="1317.9" text-anchor="middle">50</text>
<text x="1407.1" y="1317.9" text-anchor="middle">60</text>
<text x="1472.9" y="1317.9" text-anchor="middle">70</text>
<text x="1538.7" y="1317.9" text-anchor="middle">80</text>
<text x="1604.5" y="1317.9" text-anchor="middle">90</text>
<text x="1670.3" y="1317.9" text-anchor="middle">100</text>
<text x="1736.1" y="1317.9" text-anchor="middle">110</text>
<text x="996.2" y="1286.3" text-anchor="end">0.0</text>
<text x="996.2" y="1178.4" text-anchor="end">0.2</text>
<text x="996.2" y="1070.6" text-anchor="end">0.4</text>
<text x="996.2" y="962.7" text-anchor="end">0.6</text>
<text x="996.2" y="854.9" text-anchor="end">0.8</text>
<text x="996.2" y="747.0" text-anchor="end">1.0</text>
</g>
<text x="1031.6" y="761.2" font-size="55">(d)</text>
<line x1="1563.5" y1="774.3" x2="1640.6" y2="774.3" stroke="#ff1010" stroke-width="2.4"/>
<text x="1646.5" y="784.4" font-size="33">2019</text>
<text x="1149.0" y="1366.3" font-size="35.5">Distance to the city center (km)</text>
<text transform="translate(941.2,1246.0) rotate(-90)" x="0" y="0" font-size="35.5">Urban impervious surface density</text>
<g font-size="33.0">
<text x="1470.1" y="984.5" font-style="italic">a</text>
<text transform="translate(1494.3,984.5) scale(1.16,1)">=</text>
<text x="1532.3" y="984.5">1.096</text>
<text x="1470.0" y="1025.7" font-style="italic">c</text>
<text transform="translate(1492.9,1025.7) scale(1.16,1)">=</text>
<text x="1529.8" y="1025.7">0.005</text>
<text x="1470.7" y="1066.9" font-style="italic">D</text>
<text transform="translate(1502.0,1066.9) scale(1.16,1)">=</text>
<text x="1538.5" y="1066.9">39.593</text>
<text x="1471.5" y="1113.0">Adj.</text>
<text x="1537.8" y="1113.0">R</text>
<text x="1559.5" y="1099.3" font-size="22">2</text>
<text transform="translate(1578.8,1113.0) scale(1.16,1)">=</text>
<text x="1615.0" y="1113.0">0.962</text>
</g>
</svg>
</body></html>
